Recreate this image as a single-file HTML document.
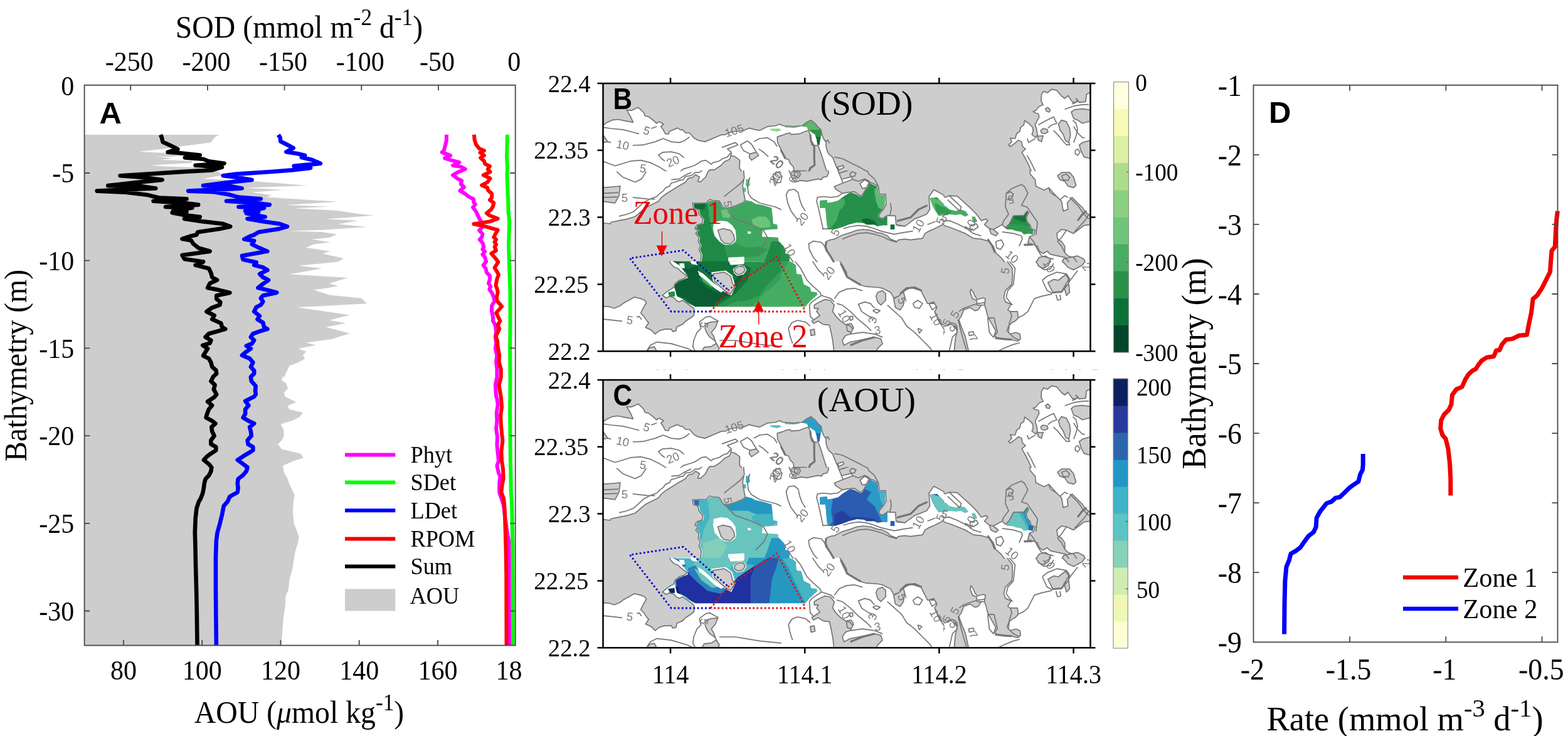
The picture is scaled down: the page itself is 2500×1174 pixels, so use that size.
<!DOCTYPE html>
<html lang="en"><head><meta charset="utf-8"><title>Figure</title>
<style>
html,body{margin:0;padding:0;background:#fff;}
body{width:2500px;height:1174px;overflow:hidden;}
svg{display:block;}
.t{font-family:"Liberation Serif","DejaVu Serif",serif;fill:#000;}
.b{font-family:"Liberation Sans","DejaVu Sans",sans-serif;font-weight:bold;fill:#000;}
.c{font-family:"Liberation Sans","DejaVu Sans",sans-serif;fill:#7a7a7a;}
.z{font-family:"Liberation Serif","DejaVu Serif",serif;fill:#e8000a;}
</style></head><body>
<svg width="2500" height="1174" viewBox="0 0 2500 1174">
<rect width="2500" height="1174" fill="#fff"/>
<path d="M134.6 214.8 349.6 215 341.6 219.4 336.3 227.3 288.7 233.5 264 237 235.8 240.2 221.7 241.8 239.3 242.9 267.6 244.1 306.4 246.2 271.1 250.3 246.4 249 274.6 252.4 257 255 306.4 256.8 306.4 260 239.3 263.5 262.3 265.6 309.9 267 341.6 272.3 348.8 274.1 354 279.4 324.1 285.2 373.4 287.6 403.4 289.1 490.7 296.1 391.1 299.6 451 302.8 401.7 306.7 433.4 311.5 424.6 314.6 539.2 321.7 456.3 327 524.2 329.6 468.7 332.3 535.7 335.8 571 341.1 595.7 343.7 519.8 349.5 571 351.7 539.2 357.5 585.1 361.9 514.5 366.7 461.6 368.4 514.5 370.2 537.5 373.7 525.1 379 496.9 381.6 526.9 386.6 500.4 389.6 488.1 394.9 526.9 401 526.9 400.9 514.5 404.4 548 412.3 539.2 417.6 475.7 423.8 513.6 428.2 461.6 437.4 555.1 442.9 525.1 452 539.2 456.4 500.4 462.6 525.1 470.5 576.3 475.8 585.1 484.3 474 490.3 557.7 502.6 525.1 510.7 551.6 515.5 519.8 521.7 557.7 531.9 528.6 541.1 488.1 546.4 503.9 550.8 475.7 556.1 488.1 560.8 482.8 566.7 486.3 571.9 475.7 578.1 461.6 583.4 456.3 594 452.8 602.8 451 600 449.3 607.1 456.3 611.5 459 619.4 452.8 626.5 454.6 632.6 472.2 641.4 458.1 647.6 461.6 652.9 482.8 658.2 477.5 665.3 466.9 670.5 447.5 676.7 451.9 684.6 452.8 695.2 449.3 702.3 443.1 708.5 449.3 716.4 479.3 723.4 483.7 730.5 466.9 735.8 451 742.8 452.8 753.4 458.1 762.2 461.6 772.8 466.9 783.4 469.6 790.5 467.8 800 466.9 817.6 468.7 835.3 473.1 845.9 476.6 856.4 474.8 867 471.3 877.6 468.7 891.7 466 909.3 461.6 923.4 459.9 941.1 455.5 949.9 454.6 967.5 451.9 985.2 450.2 1007 448.4 1029.5 134.6 1029.5Z" fill="#cdcdcd"/>
<path d="M808.8 214.7 808.4 238.4 808 251.2 809 266.6 808.4 279.4 809.3 302.4 810.3 321.6 810.6 340.8 811 340 812.2 355.4 811.6 372 811 391.2 811.6 410.4 812.2 429.6 812.9 448.8 813.5 468 813.5 480 813.5 518.4 813.1 556.8 813.5 595.2 813.5 620 813.1 658.4 813.5 696.8 813.9 735.2 814.4 760 814.8 785.6 816.1 804.8 816.7 836.8 817.4 875.2 817.4 900 817.7 1029.5" fill="none" stroke="#00ff00" stroke-width="6" stroke-linejoin="round" stroke-linecap="butt"/>
<path d="M712 214.7 711.8 224.3 709.2 234.6 707.9 239.7 704.7 242.9 713 246.1 718.2 248 709.2 252.5 719.4 255.7 732.2 258.9 722 264 734.8 265.9 741.8 269.8 731 274.2 722 279.4 729.7 285.1 736.1 288.3 734.8 293.4 739.9 298.6 733.5 304.3 741.2 308.8 747.6 313.9 755.3 317.8 755.3 322.9 757.8 326.1 754 330.6 757.8 335.7 760.4 340 763 346.4 766.8 352.8 770.6 360.5 764.2 367.5 769.4 373.3 768.1 378.4 764.9 382.2 769.4 387.4 771.3 393.8 769.4 397.6 773.2 401.4 769.4 405.9 773.2 410.4 775.1 417.4 770.6 423.2 774.5 428.3 775.8 434.7 780.9 439.8 780.9 446.2 779 452 782.2 457.1 780.2 461.6 784.7 468 787.3 474.4 788.6 480 784.1 487.7 784.1 496.6 786 505.6 786 512 789.8 518.4 791.1 528.6 789.8 537.6 791.1 546.6 789.8 556.8 792.4 567 791.1 577.3 792.4 588.8 792.4 601.6 789.8 614.4 791.1 632.8 792.4 635.4 793.7 645.6 791.8 658.4 792.4 671.2 791.1 684 793 696.8 792.4 709.6 793.7 722.4 795 735.2 792.4 742.9 795 754.4 797.5 760 796.2 770.2 796.2 785.6 798.8 793.3 802.6 804.8 805.2 824 807.8 843.2 811 862.4 811.6 881.6 811.6 910 811.6 912.8 812 1029.5" fill="none" stroke="#ff00ff" stroke-width="6" stroke-linejoin="round" stroke-linecap="butt"/>
<path d="M755.9 214.7 756.6 223 759.1 230.7 764.2 237.1 771.9 240.3 765.5 243.5 771.9 248 766.2 251.8 771.9 257 773.2 261.4 780.9 265.3 777.7 269.8 781.5 274.2 770.6 279.4 781.5 284.5 777 290.9 768.1 295.4 777 299.2 778.3 303.7 784.1 308.8 784.1 315.2 780.9 319 787.3 323.5 786 329.3 782.8 334.4 775.8 340 780.9 343.8 793.7 348.7 780.9 353.4 755.3 357.3 773.2 361.1 793.7 366.9 789.8 373.3 787.3 378.4 791.1 382.2 788.6 386.1 791.1 389.9 788.6 393.8 791.1 399.5 783.4 404.6 789.8 411.7 794.3 418.1 788.6 427 792.4 433.4 795 438.3 792.4 445 790.5 455.2 792.4 460.3 793.7 466.1 791.8 474.4 792.4 480 800.1 488.7 791.1 499.2 797.5 512 793.7 518.4 796.2 524.8 790.5 536.3 793 544 793.7 554.2 796.2 567 795.6 577.3 798.8 588.8 798.8 601.6 795.6 614.4 798.2 630.2 798.8 632.8 800.1 649.4 798.2 662.2 798.8 677.6 800.1 691.7 801.4 703.2 799.4 719.8 800.1 735.2 802 748 802.6 760.8 802.6 763.8 800.7 772.8 799.4 785.6 803.3 795.8 804.6 811.2 805.2 830.4 805.8 849.6 806.5 875.2 807.1 910 807.2 912.8 807.5 1029.5" fill="none" stroke="#ff0000" stroke-width="6" stroke-linejoin="round" stroke-linecap="butt"/>
<path d="M443.9 215 446.6 219.4 447.4 225.6 456.3 230 467.7 236.2 456.3 242.3 473.9 245 486.2 248 480.9 251.1 496.8 254.7 510.9 260.8 468.6 264.9 495.1 267.9 465.1 271.4 435.1 273.7 376.9 277.6 355.7 280.2 378.7 282.9 401.6 286.9 373.4 289.9 324 296.1 364.5 296.6 385.7 300.5 341.6 302.6 300.2 304.6 341.6 306.3 364.5 310.2 380.4 314.6 415.7 317.3 361 320.8 405.1 323.4 429.8 326.6 380.4 330 421 331.9 391 336.7 412.2 337.9 392.8 340.2 405.1 342.8 422.7 346 394.5 349 421 353.4 445.7 357 458 361.4 445.7 364.9 412.2 370.2 405.1 374.6 398.1 377.2 389.2 381.6 405.1 384.3 401.6 389.6 412.2 394.9 426.3 401 424.6 400.9 385.8 407.9 387.6 414.1 408.7 418.5 405.2 422.9 419.3 426.5 426.4 430.9 414 437 419.3 442.3 428.1 446.7 419.3 452.9 411.4 459.1 426.4 462.6 441.3 466.7 419.3 471.4 415.8 475.8 419.3 481.1 415.8 486.4 408.7 489.9 405.2 497 414 504 410.5 509.3 419.3 514.6 421.1 521.7 426.4 524.9 415.8 527.9 403.4 532.3 399.9 537.6 405.2 542.8 401.7 548.1 392.8 551.7 399.9 556.1 391.1 562.2 385.8 566.7 398.1 571.9 403.4 578.1 399.9 585.2 405.2 591.3 405.2 595.8 399.9 601 400.8 607.9 407.8 615.9 407 622.9 407.8 629.1 405.2 632.6 391.1 639.7 396.4 646.7 391.1 652.9 391.1 660 387.6 666.1 396.4 671.4 405.2 675.5 398.1 681.1 399.9 688.2 400.8 695.2 394.6 702.3 395.5 708.5 403.4 712.9 403.4 718.2 396.4 722.6 387.6 727.9 378.7 733.7 387.6 740.2 394.6 745.5 392.8 751.7 387.6 757.8 379.6 764 378.7 771.1 379.6 778.1 378.7 785.2 366.4 792.2 362.9 800 356.7 807.1 354 821.2 350.5 835.3 346.6 849.4 344.9 861.7 344 888.2 344 941.1 344.3 976.4 344.9 1029.3" fill="none" stroke="#0000ff" stroke-width="6.6" stroke-linejoin="round" stroke-linecap="butt"/>
<path d="M256.1 215 257.9 219.4 259.6 226.5 271.1 231.7 283.4 237.9 267.6 242.7 283.4 243.7 318.7 247.6 294.9 251.5 324 253.8 332.8 257.3 357.5 260.8 311.6 263.8 354 266.7 338.1 271.4 288.7 274.1 235.8 277.6 191.7 280.2 228.8 282.9 258.7 286.9 228.8 289.9 172.3 296.1 221.7 296.6 248.2 300.5 200.5 302.3 154.7 304.6 200.5 306.7 235.8 311.1 253.4 315.5 297.5 317.3 244.6 320.8 288.7 323.4 316.1 326.6 264 330 306.4 331.4 276.4 335.8 297.5 337.6 274.6 339.3 292.2 342.8 318.7 346 294 349 324 353.4 355.7 357 367.2 361.4 350.4 364.9 315.2 370.2 313.4 374.6 304.6 376.4 290.5 381.1 304.6 383.4 308.1 388.7 316.9 395.8 332.8 400.2 334.6 400.9 290.6 407.1 294.1 413.2 324.1 417.6 311.7 422.9 332.9 428.2 336.4 435.3 338.2 442.3 346.1 446.7 334.6 452 331.1 459.1 348.8 462.6 366.4 467 345.2 471.4 345.2 476.7 351.4 482 350.5 486.4 338.2 490.8 329.4 497 341.7 503.2 338.2 509.3 352.3 515.5 354 521.7 359.3 524.9 348.8 527.9 332.9 532.3 327.6 537.6 336.4 542.8 334.6 547.3 323.2 550.8 331.1 556.1 327.6 561.4 324.1 567.5 332.9 571.9 336.4 578.1 338.2 585.2 344.3 590.5 345.2 595.8 339.9 601 336.4 607.9 342.6 614.1 340.8 621.2 345.2 629.1 341.7 633.5 331.1 640.6 338.2 646.7 332.9 652.9 330.2 660 328.5 666.1 338.2 671.4 343.5 675.5 337.3 681.1 338.2 688.2 341.7 695.2 336.4 702.3 336.4 708.5 344.3 712.9 344.3 718.2 336.4 723.4 329.4 728.7 324.9 733.7 332.9 740.2 337.3 745.5 336.4 751.7 332.9 758.7 327.6 764 325.8 771.1 324.9 778.1 323.2 786.9 319.7 795.8 317 800 313.5 810.6 311.7 826.5 310.8 849.4 311.4 870.5 312.1 905.8 313.1 941.1 313.8 976.4 314.5 1029.3" fill="none" stroke="#000" stroke-width="6.6" stroke-linejoin="round" stroke-linecap="butt"/>
<g stroke="#484848" stroke-width="1.8" fill="none">
<rect x="134.6" y="135.8" width="687.1" height="893.7"/>
<path d="M134.6 276.0h8.5M821.7 276.0h-8.5"/>
<path d="M134.6 415.7h8.5M821.7 415.7h-8.5"/>
<path d="M134.6 555.4h8.5M821.7 555.4h-8.5"/>
<path d="M134.6 695.1h8.5M821.7 695.1h-8.5"/>
<path d="M134.6 834.8h8.5M821.7 834.8h-8.5"/>
<path d="M134.6 974.5h8.5M821.7 974.5h-8.5"/>
<path d="M197.0 1029.5v-8.5"/>
<path d="M322.2 1029.5v-8.5"/>
<path d="M447.5 1029.5v-8.5"/>
<path d="M572.7 1029.5v-8.5"/>
<path d="M698.0 1029.5v-8.5"/>
<path d="M208.2 135.8v8.5"/>
<path d="M330.9 135.8v8.5"/>
<path d="M453.6 135.8v8.5"/>
<path d="M576.3 135.8v8.5"/>
<path d="M699.0 135.8v8.5"/>
</g>
<text class="t" transform="translate(118.3 151.6) scale(0.955 1)" font-size="44" text-anchor="end">0</text>
<text class="t" transform="translate(118.3 291.3) scale(0.955 1)" font-size="44" text-anchor="end">-5</text>
<text class="t" transform="translate(118.3 431.0) scale(0.955 1)" font-size="44" text-anchor="end">-10</text>
<text class="t" transform="translate(118.3 570.6) scale(0.955 1)" font-size="44" text-anchor="end">-15</text>
<text class="t" transform="translate(118.3 710.4) scale(0.955 1)" font-size="44" text-anchor="end">-20</text>
<text class="t" transform="translate(118.3 850.0) scale(0.955 1)" font-size="44" text-anchor="end">-25</text>
<text class="t" transform="translate(118.3 989.8) scale(0.955 1)" font-size="44" text-anchor="end">-30</text>
<text class="t" transform="translate(197.0 1084.0) scale(0.955 1)" font-size="44" text-anchor="middle">80</text>
<text class="t" transform="translate(322.2 1084.0) scale(0.955 1)" font-size="44" text-anchor="middle">100</text>
<text class="t" transform="translate(447.5 1084.0) scale(0.955 1)" font-size="44" text-anchor="middle">120</text>
<text class="t" transform="translate(572.7 1084.0) scale(0.955 1)" font-size="44" text-anchor="middle">140</text>
<text class="t" transform="translate(698.0 1084.0) scale(0.955 1)" font-size="44" text-anchor="middle">160</text>
<text class="t" transform="translate(790.5 1084.0) scale(0.955 1)" font-size="44">18</text>
<text class="t" transform="translate(206.2 113.0) scale(0.955 1)" font-size="44" text-anchor="middle">-250</text>
<text class="t" transform="translate(328.9 113.0) scale(0.955 1)" font-size="44" text-anchor="middle">-200</text>
<text class="t" transform="translate(451.6 113.0) scale(0.955 1)" font-size="44" text-anchor="middle">-150</text>
<text class="t" transform="translate(574.3 113.0) scale(0.955 1)" font-size="44" text-anchor="middle">-100</text>
<text class="t" transform="translate(697.0 113.0) scale(0.955 1)" font-size="44" text-anchor="middle">-50</text>
<text class="t" transform="translate(819.7 113.0) scale(0.955 1)" font-size="44" text-anchor="middle">0</text>
<text class="t" transform="translate(477.0 60.3) scale(0.955 1)" font-size="50" text-anchor="middle">SOD (mmol m<tspan dy="-20" font-size="37">-2</tspan><tspan dy="20"> d</tspan><tspan dy="-20" font-size="37">-1</tspan><tspan dy="20">)</tspan></text>
<text class="t" transform="translate(477.0 1153.0) scale(0.955 1)" font-size="50" text-anchor="middle">AOU (<tspan font-style="italic">μ</tspan>mol kg<tspan dy="-20" font-size="37">-1</tspan><tspan dy="20">)</tspan></text>
<text class="t" transform="translate(42.3 583.0) rotate(-90) scale(0.955 1)" font-size="50" text-anchor="middle">Bathymetry (m)</text>
<text class="b" transform="translate(158.5 197.0)" font-size="49">A</text>
<path d="M550 725.5H630.3" stroke="#ff00ff" stroke-width="6"/>
<text class="t" transform="translate(654.5 737.8) scale(0.955 1)" font-size="38">Phyt</text>
<path d="M550 769.6H630.3" stroke="#00ff00" stroke-width="6"/>
<text class="t" transform="translate(654.5 781.9) scale(0.955 1)" font-size="38">SDet</text>
<path d="M550 814.3H630.3" stroke="#0000ff" stroke-width="6"/>
<text class="t" transform="translate(654.5 826.6) scale(0.955 1)" font-size="38">LDet</text>
<path d="M550 859.5H630.3" stroke="#f00000" stroke-width="6"/>
<text class="t" transform="translate(654.5 871.8) scale(0.955 1)" font-size="38">RPOM</text>
<path d="M550 903.5H630.3" stroke="#000" stroke-width="6"/>
<text class="t" transform="translate(654.5 915.8) scale(0.955 1)" font-size="38">Sum</text>
<rect x="550" y="939.5" width="80.3" height="35" fill="#cdcdcd"/>
<text class="t" transform="translate(653.5 963.3) scale(0.955 1)" font-size="38">AOU</text>
<defs><clipPath id="ct00"><rect x="960.8" y="132.8" width="284.9" height="140.4"/></clipPath>
<clipPath id="rt00"><path d="M1226.4 205.6 1243.0 205.0 1244.3 208.2 1239.2 210.1 1230.2 208.2ZM1250.7 201.2 1266.0 202.4 1275.0 201.8 1275.0 204.0 1252.0 203.3Z"/></clipPath>
<clipPath id="ct01"><rect x="960.8" y="271.8" width="284.9" height="146.4"/></clipPath>
<clipPath id="rt01"><path d="M1106.0 325.0 1126.5 324.4 1131.6 319.9 1136.8 320.9 1147.0 321.6 1152.1 331.7 1159.8 333.0 1172.6 329.1 1185.4 324.0 1189.2 319.3 1198.2 321.2 1204.6 325.0 1217.4 327.6 1230.2 331.4 1231.5 341.7 1232.8 357.0 1239.2 358.3 1239.8 365.4 1230.2 365.7 1216.1 367.5 1214.8 377.5 1240.4 378.8 1241.7 385.2 1249.4 391.6 1253.2 398.0 1253.2 404.4 1259.6 405.7 1259.6 420.0 1118.8 420.0 1120.1 405.7 1116.3 398.0 1118.8 391.6 1115.0 385.2 1116.3 378.8 1111.2 372.4 1115.0 367.3 1109.9 364.7 1112.4 359.6 1121.4 357.0 1122.7 349.4 1116.3 341.7 1115.0 334.0 1107.3 331.4ZM1189.2 286.6 1194.4 285.4 1195.6 295.6 1191.8 298.8 1189.2 295.6ZM1184.8 300.1 1189.2 299.4 1189.2 305.8 1185.4 306.5Z"/></clipPath>
<clipPath id="ct02"><rect x="960.8" y="416.8" width="284.9" height="144.4"/></clipPath>
<clipPath id="rt02"><path d="M1070.2 415.0 1083.0 422.7 1088.1 429.1 1095.8 439.3 1097.1 443.2 1090.7 445.7 1083.0 448.3 1076.6 453.4 1075.3 458.5 1077.9 466.2 1079.2 472.6 1088.1 476.4 1095.8 482.8 1108.6 489.2 1275.0 489.2 1275.0 415.0ZM1065.1 466.2 1075.3 464.9 1076.0 472.6 1067.6 473.9Z"/></clipPath>
<clipPath id="ct10"><rect x="1244.3" y="132.8" width="261.4" height="140.4"/></clipPath>
<clipPath id="rt10"><path d="M1227.2 205.6 1244.4 205.0 1245.7 208.2 1240.6 210.1 1231.6 208.2ZM1250.8 201.2 1266.2 202.4 1276.4 201.8 1266.2 204.0 1252.1 203.3ZM1277.7 201.2 1286.7 195.4 1293.1 192.2 1298.2 196.7 1304.6 203.1 1309.1 206.9 1309.7 214.6 1307.8 222.3 1306.5 231.2 1303.3 231.2 1302.0 222.3 1299.5 214.6 1291.8 209.5 1288.0 206.9 1286.7 203.1Z"/></clipPath>
<clipPath id="ct11"><rect x="1244.3" y="271.8" width="261.4" height="146.4"/></clipPath>
<clipPath id="rt11"><path d="M1240.6 385.2 1245.0 389.0 1248.3 391.6 1252.1 398.0 1252.1 404.4 1258.5 405.7 1258.5 420.0 1240.6 420.0ZM1307.2 319.9 1318.7 319.3 1318.7 323.8 1327.6 322.5 1336.6 319.9 1343.0 314.8 1350.7 309.7 1355.8 307.1 1362.2 308.4 1371.2 313.5 1375.0 312.2 1378.8 305.8 1385.2 295.6 1387.2 292.0 1391.6 294.3 1399.3 298.2 1400.6 311.0 1410.8 311.0 1410.8 326.3 1407.0 334.0 1400.6 341.7 1400.6 346.8 1407.0 349.4 1414.7 344.2 1414.7 359.6 1407.0 359.6 1399.3 360.9 1394.2 358.3 1381.4 358.3 1377.6 355.8 1366.0 355.1 1353.2 358.3 1343.0 362.2 1330.2 366.0 1320.0 366.0 1318.7 359.6 1317.4 346.8 1316.1 331.4 1307.2 331.4ZM1419.8 358.3 1426.2 358.3 1426.2 366.0 1419.8 366.0ZM1482.5 316.1 1494.0 314.8 1500.4 321.2 1506.8 327.6 1515.8 330.2 1522.2 334.0 1535.0 334.0 1535.0 341.7 1522.2 339.1 1509.4 343.0 1496.6 344.2 1491.5 336.6 1486.4 327.6Z"/></clipPath>
<clipPath id="ct12"><rect x="1244.3" y="416.8" width="261.4" height="144.4"/></clipPath>
<clipPath id="rt12"><path d="M1215.0 415.0 1258.5 415.0 1268.8 422.7 1270.0 436.8 1277.7 438.0 1281.6 453.4 1291.8 458.5 1293.1 464.9 1302.0 466.2 1303.3 470.0 1290.5 481.6 1284.1 489.2 1215.0 489.2Z"/></clipPath>
<clipPath id="ct20"><rect x="1504.3" y="132.8" width="234.9" height="140.4"/></clipPath>
<clipPath id="ct21"><rect x="1504.3" y="271.8" width="234.9" height="146.4"/></clipPath>
<clipPath id="rt21"><path d="M1482.7 316.1 1489.1 315.4 1496.8 319.9 1500.6 327.6 1508.3 328.9 1513.4 334.0 1523.6 336.6 1531.3 334.0 1539.0 336.6 1544.1 343.0 1539.0 345.5 1531.3 341.7 1523.6 343.0 1513.4 341.7 1504.4 344.2 1494.2 344.2 1490.4 336.6 1486.5 327.6ZM1549.2 345.5 1554.4 345.5 1558.2 353.2 1553.1 355.8 1550.5 350.6ZM1615.8 344.2 1632.4 343.6 1637.6 336.6 1638.8 339.1 1635.0 346.8 1636.3 353.2 1641.4 359.6 1642.7 364.7 1647.8 367.3 1646.5 373.7 1641.4 372.4 1632.4 373.7 1628.6 369.8 1620.9 368.6 1613.2 366.0 1605.6 366.0 1603.0 363.4 1609.4 357.0Z"/></clipPath>
<clipPath id="ct22"><rect x="1504.3" y="416.8" width="234.9" height="144.4"/></clipPath>
<g id="base"><rect x="961.5" y="133.5" width="777" height="427" fill="#cdcdcd"/><g clip-path="url(#ct00)"><path d="M961.7 199.9 967.8 195.4 976.8 191.3 985.7 190.5 997.2 192.8 1009.4 195.1 1004.9 185.2 999.2 175.6 1006.2 176.2 1012.6 173.6 1017.7 171.3 1022.8 176.2 1026.7 180.0 1028.0 184.5 1034.4 186.4 1042.0 192.2 1046.5 196.7 1051.0 194.1 1058.0 198.0 1053.6 201.8 1057.4 206.9 1060.6 213.3 1065.7 214.0 1067.6 209.5 1080.4 204.1 1084.3 206.9 1088.1 206.9 1093.2 212.0 1099.6 212.0 1106.0 219.7 1112.4 223.6 1124.0 226.1 1149.6 215.2 1157.2 214.6 1164.9 210.8 1172.6 209.5 1185.4 208.2 1194.4 204.4 1204.6 206.9 1211.0 208.2 1223.8 201.8 1236.6 200.5 1243.0 198.0 1249.4 200.5 1262.2 201.8 1275.0 199.2 1275.0 214.6 1262.2 212.0 1249.4 214.6 1239.2 218.4 1239.8 227.4 1244.3 236.4 1249.4 244.0 1253.2 253.0 1259.6 263.2 1262.2 275.0 1184.1 275.0 1179.0 268.4 1179.5 255.6 1172.0 249.8 1165.4 248.0 1163.0 254.3 1154.9 258.1 1148.8 264.5 1138.9 270.9 1132.0 270.9 1128.3 275.0 955.0 275.0 955.0 199.9Z" fill="#fff"/></g>
<g clip-path="url(#ct01)"><path d="M955.0 270.0 1132.9 270.0 1128.3 274.7 1125.0 282.5 1116.8 290.2 1112.3 289.5 1115.5 282.5 1109.0 278.6 1104.0 283.1 1097.6 284.3 1092.5 290.7 1081.6 297.1 1068.8 304.9 1061.2 309.7 1054.8 314.8 1049.7 321.2 1039.5 326.3 1029.2 331.4 1012.6 345.5 999.8 349.4 987.0 351.9 974.2 354.5 972.9 357.0 961.7 355.5 955.0 355.5ZM1185.4 270.0 1186.7 282.8 1184.1 295.6 1185.4 305.8 1188.0 318.6 1185.4 323.1 1172.6 328.2 1159.8 332.1 1152.8 330.8 1147.0 320.6 1136.8 319.9 1131.6 318.0 1125.9 323.5 1104.1 324.0 1105.4 331.4 1113.1 334.6 1114.4 341.7 1120.8 349.4 1119.5 356.4 1110.5 359.6 1108.0 364.7 1113.1 367.9 1109.2 372.4 1114.4 378.8 1113.1 385.2 1116.9 391.6 1114.4 398.0 1118.2 405.7 1116.9 420.0 1275.0 420.0 1275.0 270.0Z" fill="#fff"/></g>
<g clip-path="url(#ct02)"><path d="M961.7 488.6 971.6 489.2 979.3 491.8 988.3 488.0 993.4 484.1 1002.4 479.0 1011.3 473.9 1021.6 476.4 1028.0 479.0 1030.5 482.8 1026.7 489.2 1022.8 496.9 1021.6 499.5 1026.7 504.6 1031.8 512.3 1034.4 514.8 1029.2 522.5 1038.2 526.4 1044.6 532.8 1051.0 527.6 1060.0 525.1 1070.2 525.1 1072.8 528.9 1077.9 527.6 1079.2 521.2 1088.1 517.4 1093.2 512.3 1100.9 507.2 1106.0 503.3 1107.3 496.9 1106.0 491.8 1095.8 484.1 1088.1 479.0 1083.0 481.6 1077.9 479.0 1075.3 475.2 1067.6 472.6 1062.5 475.2 1056.1 471.3 1063.8 464.9 1074.0 458.5 1076.6 452.1 1083.0 447.0 1090.7 444.4 1095.8 440.6 1090.7 436.8 1085.6 432.9 1080.4 427.8 1075.3 426.5 1070.2 421.4 1066.4 415.0 1275.0 415.0 1275.0 565.0 955.0 565.0 955.0 488.6Z" fill="#fff"/></g>
<g clip-path="url(#ct10)"><path d="M1215.0 201.2 1221.4 200.5 1227.8 201.8 1238.0 199.2 1243.2 198.0 1248.3 200.5 1266.2 201.8 1279.0 200.5 1286.7 194.8 1293.1 191.6 1299.5 196.7 1304.6 203.1 1309.1 206.9 1310.4 214.6 1313.6 222.3 1317.4 226.1 1316.8 232.5 1318.7 240.2 1321.2 245.3 1327.6 251.1 1330.8 259.4 1334.0 267.1 1337.9 275.0 1318.7 275.0 1314.8 263.2 1309.7 246.6 1304.6 232.5 1294.4 231.2 1293.1 224.8 1291.8 214.6 1289.2 208.2 1284.1 209.5 1275.2 213.3 1261.1 214.6 1259.8 212.0 1253.4 213.3 1240.6 218.4 1239.3 227.4 1243.2 236.4 1248.3 245.3 1252.1 253.0 1257.2 254.3 1259.8 260.7 1264.9 265.8 1266.2 275.0 1215.0 275.0ZM1335.3 266.4 1344.3 263.9 1345.6 267.1 1337.9 270.9Z" fill="#fff"/></g>
<g clip-path="url(#ct11)"><path d="M1215.0 270.0 1257.2 270.0 1262.4 282.8 1267.5 290.5 1276.4 287.9 1286.7 289.2 1304.6 285.4 1309.7 286.6 1312.3 282.8 1318.7 281.5 1321.2 275.1 1320.0 270.0 1335.3 270.0 1337.9 276.4 1341.7 286.0 1344.3 291.8 1330.2 297.5 1332.8 302.0 1343.0 308.4 1349.4 307.1 1362.2 305.8 1371.2 312.2 1375.0 311.0 1378.8 304.6 1384.0 294.3 1386.5 290.5 1392.9 293.0 1400.6 297.5 1401.9 309.7 1412.1 309.7 1412.8 326.3 1408.3 334.0 1401.9 341.7 1401.9 346.8 1407.0 348.7 1416.0 343.0 1417.2 344.2 1427.5 344.2 1428.8 358.3 1442.8 360.9 1458.2 349.4 1477.4 341.7 1482.5 334.0 1481.2 313.5 1488.9 302.6 1535.0 327.6 1535.0 359.6 1522.2 357.0 1513.2 354.5 1503.0 358.3 1490.2 364.7 1481.2 368.6 1474.8 372.4 1471.0 380.1 1460.8 381.4 1451.8 382.6 1442.8 381.4 1432.6 382.6 1430.0 385.2 1419.8 381.4 1414.7 376.2 1407.0 372.4 1399.3 371.1 1387.8 367.3 1376.3 366.0 1366.0 367.3 1355.8 371.1 1343.0 375.0 1330.2 381.4 1323.8 382.6 1317.4 385.2 1316.1 392.9 1318.7 400.6 1323.8 408.2 1327.6 414.6 1330.2 420.0 1215.0 420.0ZM1341.7 286.0 1357.1 282.2 1359.6 286.0 1344.3 291.8ZM1371.2 293.0 1378.8 286.6 1386.5 291.8 1381.4 299.4 1375.0 300.7Z" fill="#fff"/></g>
<g clip-path="url(#ct12)"><path d="M1215.0 415.0 1337.9 415.0 1343.0 422.7 1349.4 434.2 1350.7 441.9 1362.2 449.6 1372.4 454.7 1381.4 457.2 1400.6 458.5 1407.0 459.8 1412.1 462.4 1419.8 466.2 1424.9 475.2 1432.6 472.6 1440.3 464.9 1451.8 458.5 1468.4 463.6 1474.8 476.4 1478.7 484.1 1490.2 484.1 1494.0 490.5 1490.2 496.9 1494.0 504.6 1500.4 516.1 1509.4 521.2 1515.8 530.2 1522.2 543.0 1524.8 565.0 1215.0 565.0ZM1524.8 517.4 1535.0 512.3 1535.0 565.0 1528.6 565.0 1527.3 543.0 1520.9 530.2Z" fill="#fff"/></g>
<g clip-path="url(#ct20)"><path d="M1660.6 150.6 1664.4 145.5 1669.6 148.0 1677.2 142.3 1684.9 144.2 1692.6 153.2 1697.7 157.0 1702.8 152.5 1706.7 158.3 1710.5 163.4 1718.2 162.1 1715.6 157.0 1720.8 163.4 1731.0 162.1 1732.3 150.6 1737.4 148.0 1743.8 148.0 1743.8 275.0 1645.2 275.0 1640.1 263.2 1635.0 253.0 1629.2 242.8 1632.4 240.2 1635.0 237.6 1630.5 233.8 1628.6 226.1 1623.5 223.6 1619.6 227.4 1610.7 233.8 1608.1 231.2 1613.2 226.1 1610.7 220.4 1618.4 221.0 1620.9 213.3 1626.0 209.5 1627.3 203.1 1632.4 199.2 1633.7 192.2 1640.1 196.7 1646.5 203.1 1647.2 209.5 1645.2 214.6 1651.6 219.7 1654.2 214.6 1652.9 206.9 1650.4 199.2 1652.9 194.1 1656.8 186.4 1655.5 181.3 1650.4 180.0 1647.2 178.1 1651.6 176.2 1656.8 169.8 1663.2 167.2 1660.0 160.8Z" fill="#fff"/></g>
<g clip-path="url(#ct21)"><path d="M1475.0 339.1 1480.1 314.8 1489.1 302.6 1507.0 314.8 1513.4 312.2 1526.2 312.9 1546.7 331.4 1556.9 341.7 1564.6 351.9 1572.3 349.4 1574.8 351.9 1569.7 358.3 1577.4 364.7 1583.8 366.0 1597.9 358.3 1603.0 363.4 1609.4 357.0 1615.8 344.2 1632.4 343.6 1637.6 336.6 1640.1 339.1 1636.3 346.8 1637.6 353.2 1642.7 359.6 1644.0 364.7 1650.4 367.3 1647.8 375.0 1641.4 377.5 1638.8 387.8 1647.8 390.3 1654.2 392.9 1656.8 400.6 1663.2 404.4 1669.6 400.6 1674.7 405.7 1686.2 408.2 1699.0 410.8 1705.4 420.0 1603.0 420.0 1596.0 410.8 1587.6 403.1 1583.8 392.9 1577.4 385.2 1564.6 381.4 1551.8 380.1 1539.0 372.4 1526.2 367.3 1513.4 362.2 1500.6 358.3 1487.8 359.6 1475.0 367.3ZM1641.4 270.0 1642.7 277.7 1650.4 286.6 1651.6 296.9 1664.4 303.3 1672.1 299.4 1674.7 307.1 1684.9 313.5 1692.6 321.2 1695.2 336.6 1702.8 334.0 1701.6 323.8 1709.2 314.8 1718.2 323.8 1725.9 331.4 1731.0 339.1 1737.4 343.0 1743.8 343.0 1743.8 270.0ZM1684.9 372.4 1692.6 366.0 1700.3 367.3 1711.8 372.4 1718.2 367.3 1728.4 359.6 1737.4 358.3 1743.8 358.3 1743.8 420.0 1718.2 420.0 1711.8 410.8 1702.8 408.2 1697.7 403.1 1697.7 392.9 1692.6 385.2 1686.2 381.4Z" fill="#fff"/></g>
<g clip-path="url(#ct22)"><path d="M1603.6 413.7 1613.9 427.8 1614.5 440.6 1613.2 453.4 1603.0 463.6 1600.4 473.9 1603.0 481.6 1612.0 485.4 1606.8 494.4 1610.7 496.9 1622.2 496.9 1623.5 507.2 1618.4 512.3 1613.2 514.8 1608.1 520.0 1605.6 527.6 1610.7 532.8 1619.6 530.2 1626.0 532.8 1627.3 540.4 1622.2 544.3 1613.2 541.7 1603.0 540.4 1590.2 539.2 1585.1 535.3 1587.6 527.6 1583.8 521.2 1577.4 509.7 1574.8 504.6 1572.3 494.4 1569.7 486.7 1564.6 486.7 1559.5 494.4 1554.4 495.6 1546.7 490.5 1536.4 494.4 1532.6 504.6 1528.8 509.7 1531.3 517.4 1535.2 527.6 1539.0 536.6 1541.6 548.1 1545.4 565.0 1743.8 565.0 1743.8 415.0ZM1548.0 461.1 1551.8 466.2 1554.4 472.6 1558.2 477.7 1567.2 475.2 1571.0 476.4 1569.7 486.7 1564.6 486.7 1558.2 486.7 1556.9 479.0 1550.5 476.4 1546.7 466.2ZM1475.0 476.4 1482.7 482.8 1490.4 486.7 1491.6 494.4 1487.8 499.5 1492.9 507.2 1498.0 514.8 1500.6 521.2 1508.3 520.0 1513.4 516.1 1521.1 520.0 1526.2 527.6 1523.6 537.9 1522.4 548.1 1521.1 565.0 1475.0 565.0Z" fill="#fff"/></g></g>
<g id="lines"><g clip-path="url(#ct00)"><path d="M960.1 213.3 969.1 226.1 960.1 227.4ZM1195.6 245.3 1205.9 242.8 1209.7 247.9 1198.2 255.6 1194.4 250.4Z" fill="#cdcdcd"/></g>
<g clip-path="url(#ct01)"><path d="M960.1 299.4 983.2 297.5 988.9 296.9 987.0 312.2 980.6 323.8 960.1 321.2ZM1144.4 367.3 1152.1 364.7 1164.9 367.3 1170.0 375.0 1171.3 382.6 1164.9 389.0 1154.7 387.8 1149.6 382.6 1147.0 375.0Z" fill="#cdcdcd"/></g>
<g clip-path="url(#ct02)"><path d="M1126.5 516.1 1134.2 513.6 1144.4 512.9 1140.6 522.5 1134.2 530.2 1138.0 536.6 1141.9 548.1 1134.2 552.6 1122.7 553.9 1118.8 560.5 1144.4 560.5 1147.0 555.8 1139.3 543.0 1131.6 537.9 1126.5 530.2 1124.0 523.8ZM1136.8 436.8 1154.7 434.2 1164.9 440.6 1167.5 450.8 1171.3 458.5 1164.9 468.8 1157.2 464.9 1147.0 456.0 1139.3 448.3ZM1171.3 429.1 1177.7 424.6 1185.4 425.2 1188.0 430.4 1184.1 436.1 1176.4 438.0 1171.3 434.2ZM1031.8 560.5 1035.6 554.5 1043.3 553.2 1047.2 560.5Z" fill="#cdcdcd"/></g>
<g clip-path="url(#ct12)"><path d="M1298.2 486.7 1304.6 482.8 1314.8 477.7 1323.8 479.0 1330.2 486.7 1327.6 496.9 1332.8 504.6 1340.4 512.3 1348.1 517.4 1355.8 520.0 1359.6 525.1 1355.8 532.8 1348.1 535.3 1343.0 543.0 1345.6 550.7 1355.8 545.6 1368.6 543.0 1381.4 540.4 1394.2 537.9 1404.4 540.4 1407.0 548.1 1399.3 555.8 1394.2 565.0 1330.2 565.0 1327.6 543.0 1325.1 530.2 1322.5 518.7 1312.3 517.4 1304.6 512.3 1296.9 516.1 1294.4 512.3 1307.2 503.3 1302.0 496.9 1304.6 491.8 1298.2 491.8ZM1291.8 526.4 1298.2 525.1 1299.5 534.0 1293.1 535.3ZM1399.3 466.2 1407.0 463.6 1412.1 468.8 1412.1 479.0 1404.4 486.7 1399.3 481.6 1396.8 472.6ZM1432.6 472.6 1440.3 464.9 1442.8 473.9 1440.3 486.7 1435.2 494.4 1427.5 490.5 1424.9 476.4ZM1349.4 517.4 1357.1 516.1 1360.9 522.5 1357.1 530.2 1350.7 527.6Z" fill="#cdcdcd"/></g>
<g clip-path="url(#ct20)"><path d="M1654.2 217.2 1663.2 216.5 1660.6 226.1 1655.5 223.6ZM1687.5 198.0 1692.6 191.6 1700.3 194.1 1705.4 204.4 1706.7 214.6 1704.1 227.4 1699.0 224.8 1695.2 214.6 1690.0 206.9ZM1708.0 178.8 1713.1 174.9 1725.9 173.6 1743.8 176.2 1743.8 191.6 1725.9 196.7 1718.2 191.6 1711.8 189.0ZM1720.8 231.2 1725.9 227.4 1743.8 222.3 1743.8 254.3 1728.4 250.4 1723.3 240.2ZM1667.0 173.6 1670.8 171.3 1674.7 175.6 1672.8 178.8 1668.3 177.5ZM1659.3 208.2 1663.2 205.0 1669.6 206.3 1670.8 210.8 1665.7 213.3 1660.6 212.0Z" fill="#cdcdcd"/></g>
<g clip-path="url(#ct21)"><path d="M1650.4 421.0 1656.8 410.8 1667.0 408.2 1674.7 413.4 1674.7 421.0ZM1692.6 421.0 1695.2 413.4 1705.4 410.8 1718.2 408.2 1728.4 413.4 1731.0 421.0ZM1686.2 280.2 1692.6 275.1 1705.4 275.1 1711.8 282.8 1715.6 295.6 1711.8 299.4 1702.8 296.9 1697.7 289.2 1690.0 286.6ZM1577.4 364.7 1583.8 366.0 1591.5 372.4 1587.6 376.2 1580.0 372.4Z" fill="#cdcdcd"/></g>
<g clip-path="url(#ct22)"><path d="M1490.4 527.6 1498.0 525.1 1505.7 528.9 1503.2 535.3 1495.5 537.9 1490.4 534.0ZM1670.8 450.8 1679.8 445.7 1687.5 447.0 1699.0 438.0 1704.1 445.7 1692.6 464.9 1678.5 466.2ZM1650.4 415.0 1674.7 415.0 1672.1 422.7 1664.4 427.8 1656.8 425.2ZM1692.6 415.0 1731.0 415.0 1725.9 422.7 1711.8 430.4 1702.8 426.5ZM1696.4 457.2 1704.1 453.4 1705.4 466.2 1700.3 471.3Z" fill="#cdcdcd"/></g><g clip-path="url(#ct00)" fill="none" stroke="#757575" stroke-width="1.7" stroke-linejoin="round"><path d="M961.7 199.9 967.8 195.4 976.8 191.3 985.7 190.5 997.2 192.8 1009.4 195.1 1004.9 185.2 999.2 175.6 1006.2 176.2 1012.6 173.6 1017.7 171.3 1022.8 176.2 1026.7 180.0 1028.0 184.5 1034.4 186.4 1042.0 192.2 1046.5 196.7 1051.0 194.1 1058.0 198.0 1053.6 201.8 1057.4 206.9 1060.6 213.3 1065.7 214.0 1067.6 209.5 1080.4 204.1 1084.3 206.9 1088.1 206.9 1093.2 212.0 1099.6 212.0 1106.0 219.7 1112.4 223.6 1124.0 226.1 1149.6 215.2 1157.2 214.6 1164.9 210.8 1172.6 209.5 1185.4 208.2 1194.4 204.4 1204.6 206.9 1211.0 208.2 1223.8 201.8 1236.6 200.5 1243.0 198.0 1249.4 200.5 1262.2 201.8 1275.0 199.2 1275.0 214.6 1262.2 212.0 1249.4 214.6 1239.2 218.4 1239.8 227.4 1244.3 236.4 1249.4 244.0 1253.2 253.0 1259.6 263.2 1262.2 275.0 1184.1 275.0 1179.0 268.4 1179.5 255.6 1172.0 249.8 1165.4 248.0 1163.0 254.3 1154.9 258.1 1148.8 264.5 1138.9 270.9 1132.0 270.9 1128.3 275.0 955.0 275.0 955.0 199.9ZM960.1 213.3 969.1 226.1 960.1 227.4ZM1195.6 245.3 1205.9 242.8 1209.7 247.9 1198.2 255.6 1194.4 250.4ZM1164.9 244.0 1159.8 250.4 1152.1 253.0 1147.0 256.8 1136.8 259.4 1134.2 262.0 1125.2 255.6 1118.8 256.8 1108.6 263.2 1102.2 265.8 1089.4 269.6 1083.0 275.0M961.7 203.1 974.2 205.0 993.4 206.9 1008.8 210.8 1019.0 213.3M1038.2 205.0 1047.2 201.8M969.1 226.1 974.2 227.4M1008.8 231.9 1025.4 231.2 1044.6 226.1 1057.4 221.0 1070.2 226.1 1083.0 227.4 1090.7 224.8 1099.6 218.4M1060.0 256.8 1054.8 253.0 1049.7 247.2 1057.4 242.8 1070.2 242.1 1083.0 245.3 1090.7 251.7M961.7 257.5 980.6 264.5 993.4 260.7 1006.2 256.8 1021.6 255.6 1036.9 259.4 1052.3 267.1 1065.1 275.0M1209.7 237.6 1217.4 242.8 1225.1 249.8M1202.0 226.1 1211.0 221.0 1223.8 219.7 1234.0 226.1 1239.2 233.8M1150.8 235.1 1172.6 227.4 1176.4 231.2 1159.8 237.6 1166.2 242.8 1164.9 250.4M1180.3 231.2 1191.8 224.8 1198.2 230.0 1205.9 242.8M1180.3 231.2 1185.4 240.2 1195.6 245.3"/></g><text class="c" transform="translate(1029.2 214.6) rotate(18)" font-size="18.5" text-anchor="middle">5</text><text class="c" transform="translate(991.5 237.6) rotate(12)" font-size="18.5" text-anchor="middle">10</text><text class="c" transform="translate(1075.3 263.2) rotate(-22)" font-size="18.5" text-anchor="middle">20</text><text class="c" transform="translate(1235.3 263.2) rotate(40)" font-size="18.5" text-anchor="middle">20</text><text class="c" transform="translate(1172.6 214.6) rotate(-18)" font-size="18.5" text-anchor="middle">105</text><text class="c" transform="translate(1024.1 274.8) rotate(10)" font-size="18.5" text-anchor="middle">5</text>
<g clip-path="url(#ct01)" fill="none" stroke="#757575" stroke-width="1.7" stroke-linejoin="round"><path d="M955.0 270.0 1132.9 270.0 1128.3 274.7 1125.0 282.5 1116.8 290.2 1112.3 289.5 1115.5 282.5 1109.0 278.6 1104.0 283.1 1097.6 284.3 1092.5 290.7 1081.6 297.1 1068.8 304.9 1061.2 309.7 1054.8 314.8 1049.7 321.2 1039.5 326.3 1029.2 331.4 1012.6 345.5 999.8 349.4 987.0 351.9 974.2 354.5 972.9 357.0 961.7 355.5 955.0 355.5ZM1185.4 270.0 1186.7 282.8 1184.1 295.6 1185.4 305.8 1188.0 318.6 1185.4 323.1 1172.6 328.2 1159.8 332.1 1152.8 330.8 1147.0 320.6 1136.8 319.9 1131.6 318.0 1125.9 323.5 1104.1 324.0 1105.4 331.4 1113.1 334.6 1114.4 341.7 1120.8 349.4 1119.5 356.4 1110.5 359.6 1108.0 364.7 1113.1 367.9 1109.2 372.4 1114.4 378.8 1113.1 385.2 1116.9 391.6 1114.4 398.0 1118.2 405.7 1116.9 420.0 1275.0 420.0 1275.0 270.0ZM960.1 299.4 983.2 297.5 988.9 296.9 987.0 312.2 980.6 323.8 960.1 321.2ZM1144.4 367.3 1152.1 364.7 1164.9 367.3 1170.0 375.0 1171.3 382.6 1164.9 389.0 1154.7 387.8 1149.6 382.6 1147.0 375.0ZM1121.4 270.0 1115.0 275.1 1108.6 275.1 1102.2 280.2 1093.2 281.5 1089.4 286.6 1083.0 287.9 1076.6 290.5 1070.2 291.8 1067.6 296.9 1061.2 299.4 1057.4 304.6 1052.3 308.4 1047.2 313.5 1036.9 317.4 1026.7 322.5 1010.0 337.8 999.8 341.7 987.0 344.9M1008.8 314.8 1031.8 317.4 1044.6 317.6M983.2 273.8 993.4 282.8 1012.6 290.5 1022.8 285.4 1030.5 273.8M1154.7 313.5 1162.4 307.1 1172.6 299.4 1180.3 293.0 1185.4 286.6M1195.6 282.8 1191.8 295.6 1193.1 308.4 1198.2 316.1 1211.0 323.8 1236.6 330.2 1255.8 339.1 1268.6 349.4 1277.6 359.6 1282.7 372.4M1159.8 336.6 1172.6 349.4 1198.2 358.3 1217.4 367.3 1223.8 378.8 1217.4 391.6 1204.6 404.4M1232.8 277.7 1243.0 273.8 1250.7 280.2 1249.4 289.2 1240.4 291.8 1232.8 285.4 1232.8 277.7M962.7 308.4 985.7 307.1M962.7 314.8 984.4 314.2M1070.2 286.6 1083.0 285.4 1093.2 279.0 1102.2 275.1"/></g><text class="c" transform="translate(996.0 321.8) rotate(0)" font-size="18.5" text-anchor="middle">5</text><text class="c" transform="translate(1253.2 401.8) rotate(60)" font-size="18.5" text-anchor="middle">10</text><text class="c" transform="translate(1241.7 286.6) rotate(-50)" font-size="17.5" text-anchor="middle">20</text><text class="c" transform="translate(1154.7 326.3) rotate(80)" font-size="17.5" text-anchor="middle">5</text>
<g clip-path="url(#ct02)" fill="none" stroke="#757575" stroke-width="1.7" stroke-linejoin="round"><path d="M961.7 488.6 971.6 489.2 979.3 491.8 988.3 488.0 993.4 484.1 1002.4 479.0 1011.3 473.9 1021.6 476.4 1028.0 479.0 1030.5 482.8 1026.7 489.2 1022.8 496.9 1021.6 499.5 1026.7 504.6 1031.8 512.3 1034.4 514.8 1029.2 522.5 1038.2 526.4 1044.6 532.8 1051.0 527.6 1060.0 525.1 1070.2 525.1 1072.8 528.9 1077.9 527.6 1079.2 521.2 1088.1 517.4 1093.2 512.3 1100.9 507.2 1106.0 503.3 1107.3 496.9 1106.0 491.8 1095.8 484.1 1088.1 479.0 1083.0 481.6 1077.9 479.0 1075.3 475.2 1067.6 472.6 1062.5 475.2 1056.1 471.3 1063.8 464.9 1074.0 458.5 1076.6 452.1 1083.0 447.0 1090.7 444.4 1095.8 440.6 1090.7 436.8 1085.6 432.9 1080.4 427.8 1075.3 426.5 1070.2 421.4 1066.4 415.0 1275.0 415.0 1275.0 565.0 955.0 565.0 955.0 488.6ZM1126.5 516.1 1134.2 513.6 1144.4 512.9 1140.6 522.5 1134.2 530.2 1138.0 536.6 1141.9 548.1 1134.2 552.6 1122.7 553.9 1118.8 560.5 1144.4 560.5 1147.0 555.8 1139.3 543.0 1131.6 537.9 1126.5 530.2 1124.0 523.8ZM1136.8 436.8 1154.7 434.2 1164.9 440.6 1167.5 450.8 1171.3 458.5 1164.9 468.8 1157.2 464.9 1147.0 456.0 1139.3 448.3ZM1171.3 429.1 1177.7 424.6 1185.4 425.2 1188.0 430.4 1184.1 436.1 1176.4 438.0 1171.3 434.2ZM1031.8 560.5 1035.6 554.5 1043.3 553.2 1047.2 560.5ZM961.7 509.1 974.2 510.4 992.1 512.3M1015.2 505.9 1019.0 504.6 1022.8 509.7M1030.5 560.5 1036.9 550.7 1047.2 545.6 1070.2 548.1 1095.8 555.8 1106.0 560.5M1115.0 513.6 1125.2 505.9 1131.6 504.6 1140.6 509.7 1145.7 512.3M1115.0 513.6 1117.6 523.8 1111.2 530.2 1106.0 543.0 1104.8 553.2 1108.6 560.5M1259.6 525.1 1266.0 517.4 1275.0 513.6M1147.0 543.0 1172.6 543.0 1211.0 549.4 1249.4 553.2 1275.0 549.4"/></g><text class="c" transform="translate(1003.0 516.8) rotate(10)" font-size="18.5" text-anchor="middle">5</text><text class="c" transform="translate(1116.9 517.4) rotate(100)" font-size="17.5" text-anchor="middle">5</text>
<g clip-path="url(#ct10)" fill="none" stroke="#757575" stroke-width="1.7" stroke-linejoin="round"><path d="M1215.0 201.2 1221.4 200.5 1227.8 201.8 1238.0 199.2 1243.2 198.0 1248.3 200.5 1266.2 201.8 1279.0 200.5 1286.7 194.8 1293.1 191.6 1299.5 196.7 1304.6 203.1 1309.1 206.9 1310.4 214.6 1313.6 222.3 1317.4 226.1 1316.8 232.5 1318.7 240.2 1321.2 245.3 1327.6 251.1 1330.8 259.4 1334.0 267.1 1337.9 275.0 1318.7 275.0 1314.8 263.2 1309.7 246.6 1304.6 232.5 1294.4 231.2 1293.1 224.8 1291.8 214.6 1289.2 208.2 1284.1 209.5 1275.2 213.3 1261.1 214.6 1259.8 212.0 1253.4 213.3 1240.6 218.4 1239.3 227.4 1243.2 236.4 1248.3 245.3 1252.1 253.0 1257.2 254.3 1259.8 260.7 1264.9 265.8 1266.2 275.0 1215.0 275.0ZM1335.3 266.4 1344.3 263.9 1345.6 267.1 1337.9 270.9ZM1215.0 219.7 1227.8 220.4 1238.0 222.9M1330.2 250.4 1343.0 253.0 1355.8 259.4 1368.6 265.8 1385.2 275.0M1314.8 226.1 1320.0 223.6 1322.5 228.7"/><path d="M1291.8 214.6 1293.1 224.8 1298.2 233.8 1298.2 253.0 1298.8 263.2 1291.8 268.4 1289.2 275.0" stroke-width="3.2"/><path d="M1239.3 227.4 1243.2 236.4 1248.3 245.3 1252.1 253.0" stroke-width="3.2"/></g><text class="c" transform="translate(1234.2 263.9) rotate(40)" font-size="18.5" text-anchor="middle">20</text>
<g clip-path="url(#ct11)" fill="none" stroke="#757575" stroke-width="1.7" stroke-linejoin="round"><path d="M1215.0 270.0 1257.2 270.0 1262.4 282.8 1267.5 290.5 1276.4 287.9 1286.7 289.2 1304.6 285.4 1309.7 286.6 1312.3 282.8 1318.7 281.5 1321.2 275.1 1320.0 270.0 1335.3 270.0 1337.9 276.4 1341.7 286.0 1344.3 291.8 1330.2 297.5 1332.8 302.0 1343.0 308.4 1349.4 307.1 1362.2 305.8 1371.2 312.2 1375.0 311.0 1378.8 304.6 1384.0 294.3 1386.5 290.5 1392.9 293.0 1400.6 297.5 1401.9 309.7 1412.1 309.7 1412.8 326.3 1408.3 334.0 1401.9 341.7 1401.9 346.8 1407.0 348.7 1416.0 343.0 1417.2 344.2 1427.5 344.2 1428.8 358.3 1442.8 360.9 1458.2 349.4 1477.4 341.7 1482.5 334.0 1481.2 313.5 1488.9 302.6 1535.0 327.6 1535.0 359.6 1522.2 357.0 1513.2 354.5 1503.0 358.3 1490.2 364.7 1481.2 368.6 1474.8 372.4 1471.0 380.1 1460.8 381.4 1451.8 382.6 1442.8 381.4 1432.6 382.6 1430.0 385.2 1419.8 381.4 1414.7 376.2 1407.0 372.4 1399.3 371.1 1387.8 367.3 1376.3 366.0 1366.0 367.3 1355.8 371.1 1343.0 375.0 1330.2 381.4 1323.8 382.6 1317.4 385.2 1316.1 392.9 1318.7 400.6 1323.8 408.2 1327.6 414.6 1330.2 420.0 1215.0 420.0ZM1341.7 286.0 1357.1 282.2 1359.6 286.0 1344.3 291.8ZM1371.2 293.0 1378.8 286.6 1386.5 291.8 1381.4 299.4 1375.0 300.7ZM1284.1 336.6 1279.0 328.9 1275.2 318.6 1272.6 307.1 1266.2 302.0 1257.2 303.3 1253.4 311.0 1256.0 323.8 1261.1 336.6 1268.8 346.8 1272.6 350.6M1312.3 365.4 1304.6 330.2 1302.0 321.2 1303.3 314.8 1312.3 313.5 1323.8 314.8 1335.3 313.5 1343.0 308.4M1215.0 330.2 1227.8 336.6 1236.8 346.8 1241.9 359.6 1243.2 372.4M1257.2 407.0 1266.2 420.0M1311.0 365.4 1323.8 364.7M1344.3 364.7 1355.8 361.5 1368.6 359.6 1381.4 360.9 1394.2 364.7 1404.4 368.6 1414.7 371.1 1426.2 373.7 1439.0 371.1 1455.6 368.6M1478.7 358.3 1491.5 353.2M1317.4 400.6 1314.8 392.9 1309.7 386.5 1296.9 384.6 1289.2 389.0 1290.5 398.0 1296.9 410.8 1304.6 420.0M1510.7 314.8 1515.8 312.2 1535.0 323.8M1430.0 359.6 1442.8 360.9 1458.2 349.4 1477.4 341.7M1231.6 279.0 1240.6 275.1 1247.0 281.5 1244.4 290.5 1236.8 291.8 1231.6 285.4 1231.6 279.0M1266.2 275.1 1272.6 272.6 1276.4 277.7 1272.6 284.1 1267.5 281.5 1266.2 275.1M1354.5 277.7 1358.4 273.8 1364.8 276.4 1362.2 281.5 1357.1 281.5 1354.5 277.7M1337.9 276.4 1349.4 272.6 1355.8 270.0M1359.6 286.0 1368.6 289.2 1378.8 285.4 1386.5 289.2M1400.6 297.5 1394.2 285.4 1385.2 277.7 1381.4 270.0M1419.8 323.8 1421.1 334.0 1418.5 344.2M1343.0 381.4 1355.8 376.2 1368.6 372.4 1381.4 371.1 1394.2 373.7 1407.0 377.5 1417.2 382.6 1430.0 386.5"/><path d="M1430.0 352.6 1451.8 346.8 1464.6 334.0 1478.7 327.6" stroke-width="3.2"/><path d="M1317.4 385.2 1316.1 392.9 1318.7 400.6 1323.8 408.2 1327.6 414.6 1330.2 420.0" stroke-width="3.2"/><path d="M1263.6 272.6 1286.7 271.3" stroke-width="3.2"/></g><text class="c" transform="translate(1284.1 353.2) rotate(-52)" font-size="18.5" text-anchor="middle">20</text><text class="c" transform="translate(1337.2 373.7) rotate(-60)" font-size="18.5" text-anchor="middle">5</text><text class="c" transform="translate(1469.7 363.4) rotate(-60)" font-size="18.5" text-anchor="middle">10</text><text class="c" transform="translate(1505.6 354.5) rotate(-70)" font-size="18.5" text-anchor="middle">5</text><text class="c" transform="translate(1240.6 289.2) rotate(-60)" font-size="17.5" text-anchor="middle">20</text><text class="c" transform="translate(1271.3 284.1) rotate(-70)" font-size="17.5" text-anchor="middle">60</text>
<g clip-path="url(#ct12)" fill="none" stroke="#757575" stroke-width="1.7" stroke-linejoin="round"><path d="M1215.0 415.0 1337.9 415.0 1343.0 422.7 1349.4 434.2 1350.7 441.9 1362.2 449.6 1372.4 454.7 1381.4 457.2 1400.6 458.5 1407.0 459.8 1412.1 462.4 1419.8 466.2 1424.9 475.2 1432.6 472.6 1440.3 464.9 1451.8 458.5 1468.4 463.6 1474.8 476.4 1478.7 484.1 1490.2 484.1 1494.0 490.5 1490.2 496.9 1494.0 504.6 1500.4 516.1 1509.4 521.2 1515.8 530.2 1522.2 543.0 1524.8 565.0 1215.0 565.0ZM1524.8 517.4 1535.0 512.3 1535.0 565.0 1528.6 565.0 1527.3 543.0 1520.9 530.2ZM1298.2 486.7 1304.6 482.8 1314.8 477.7 1323.8 479.0 1330.2 486.7 1327.6 496.9 1332.8 504.6 1340.4 512.3 1348.1 517.4 1355.8 520.0 1359.6 525.1 1355.8 532.8 1348.1 535.3 1343.0 543.0 1345.6 550.7 1355.8 545.6 1368.6 543.0 1381.4 540.4 1394.2 537.9 1404.4 540.4 1407.0 548.1 1399.3 555.8 1394.2 565.0 1330.2 565.0 1327.6 543.0 1325.1 530.2 1322.5 518.7 1312.3 517.4 1304.6 512.3 1296.9 516.1 1294.4 512.3 1307.2 503.3 1302.0 496.9 1304.6 491.8 1298.2 491.8ZM1291.8 526.4 1298.2 525.1 1299.5 534.0 1293.1 535.3ZM1399.3 466.2 1407.0 463.6 1412.1 468.8 1412.1 479.0 1404.4 486.7 1399.3 481.6 1396.8 472.6ZM1432.6 472.6 1440.3 464.9 1442.8 473.9 1440.3 486.7 1435.2 494.4 1427.5 490.5 1424.9 476.4ZM1349.4 517.4 1357.1 516.1 1360.9 522.5 1357.1 530.2 1350.7 527.6ZM1266.2 415.0 1276.4 427.8 1286.7 447.0 1296.9 457.2 1307.2 466.2 1309.7 471.3 1325.1 476.4 1330.2 481.6M1294.4 415.0 1304.6 430.4 1312.3 438.0M1330.2 476.4 1337.9 466.2 1349.4 461.1 1362.2 459.8 1375.0 463.6M1394.2 491.8 1387.8 484.1 1378.8 481.6 1368.6 485.4 1373.7 496.9 1385.2 504.6 1394.2 507.2M1334.0 484.1 1343.0 486.7 1355.8 496.9 1368.6 509.7 1381.4 520.0 1389.1 527.6M1414.7 486.7 1426.2 496.9 1437.7 507.2 1445.4 520.0 1458.2 530.2 1471.0 543.0 1483.8 555.8 1487.6 565.0M1309.7 471.3 1294.4 481.6 1290.5 486.7 1291.8 504.6 1296.9 509.7M1291.8 520.0 1284.1 513.6 1271.3 511.0 1262.4 514.8 1257.2 523.8 1259.8 536.6 1263.6 548.1M1391.6 495.6 1396.8 493.1 1403.2 495.6 1398.0 499.5 1391.6 495.6M1354.5 504.6 1359.6 504.6 1359.6 509.7 1355.8 511.0 1354.5 504.6M1463.3 523.8 1469.7 526.4 1465.9 531.5 1463.3 523.8M1455.6 484.1 1463.3 479.0 1471.0 484.1 1465.9 491.8 1458.2 490.5 1455.6 484.1M1481.2 484.1 1488.9 481.6 1492.8 489.2 1486.4 494.4 1481.2 484.1M1355.8 532.8 1375.0 530.2 1394.2 532.8 1407.0 537.9M1490.2 496.9 1496.6 512.3 1504.3 523.8 1515.8 543.0 1519.6 555.8"/><path d="M1340.4 420.1 1350.7 441.9 1372.4 454.7" stroke-width="3.2"/><path d="M1435.2 468.8 1445.4 459.8 1458.2 458.5 1469.7 463.6" stroke-width="3.2"/><path d="M1355.8 550.7 1375.0 543.0 1394.2 537.9" stroke-width="3.2"/></g><text class="c" transform="translate(1326.4 439.3) rotate(-55)" font-size="18.5" text-anchor="middle">20</text><text class="c" transform="translate(1397.4 512.3) rotate(-80)" font-size="18.5" text-anchor="middle">3</text><text class="c" transform="translate(1400.0 532.8) rotate(-10)" font-size="18.5" text-anchor="middle">3</text><text class="c" transform="translate(1432.6 481.6) rotate(70)" font-size="18.5" text-anchor="middle">5</text><text class="c" transform="translate(1340.4 507.2) rotate(60)" font-size="18.5" text-anchor="middle">10</text><text class="c" transform="translate(1486.4 512.3) rotate(60)" font-size="18.5" text-anchor="middle">10</text><text class="c" transform="translate(1514.5 525.1) rotate(80)" font-size="18.5" text-anchor="middle">5</text>
<g clip-path="url(#ct20)" fill="none" stroke="#757575" stroke-width="1.7" stroke-linejoin="round"><path d="M1660.6 150.6 1664.4 145.5 1669.6 148.0 1677.2 142.3 1684.9 144.2 1692.6 153.2 1697.7 157.0 1702.8 152.5 1706.7 158.3 1710.5 163.4 1718.2 162.1 1715.6 157.0 1720.8 163.4 1731.0 162.1 1732.3 150.6 1737.4 148.0 1743.8 148.0 1743.8 275.0 1645.2 275.0 1640.1 263.2 1635.0 253.0 1629.2 242.8 1632.4 240.2 1635.0 237.6 1630.5 233.8 1628.6 226.1 1623.5 223.6 1619.6 227.4 1610.7 233.8 1608.1 231.2 1613.2 226.1 1610.7 220.4 1618.4 221.0 1620.9 213.3 1626.0 209.5 1627.3 203.1 1632.4 199.2 1633.7 192.2 1640.1 196.7 1646.5 203.1 1647.2 209.5 1645.2 214.6 1651.6 219.7 1654.2 214.6 1652.9 206.9 1650.4 199.2 1652.9 194.1 1656.8 186.4 1655.5 181.3 1650.4 180.0 1647.2 178.1 1651.6 176.2 1656.8 169.8 1663.2 167.2 1660.0 160.8ZM1654.2 217.2 1663.2 216.5 1660.6 226.1 1655.5 223.6ZM1687.5 198.0 1692.6 191.6 1700.3 194.1 1705.4 204.4 1706.7 214.6 1704.1 227.4 1699.0 224.8 1695.2 214.6 1690.0 206.9ZM1708.0 178.8 1713.1 174.9 1725.9 173.6 1743.8 176.2 1743.8 191.6 1725.9 196.7 1718.2 191.6 1711.8 189.0ZM1720.8 231.2 1725.9 227.4 1743.8 222.3 1743.8 254.3 1728.4 250.4 1723.3 240.2ZM1667.0 173.6 1670.8 171.3 1674.7 175.6 1672.8 178.8 1668.3 177.5ZM1659.3 208.2 1663.2 205.0 1669.6 206.3 1670.8 210.8 1665.7 213.3 1660.6 212.0ZM1697.7 174.3 1711.8 169.2 1724.6 167.2 1736.1 166.6M1655.5 199.2 1667.0 192.8 1679.8 186.4 1684.9 196.7 1677.2 199.2 1670.8 204.4M1637.6 247.9 1644.0 259.4 1651.6 275.0M1637.6 221.0 1640.1 227.4 1650.4 221.0M1679.8 208.2 1686.2 214.6 1692.6 222.3 1700.3 231.2 1705.4 231.2 1704.1 227.4M1711.8 201.8 1718.2 212.0 1725.9 219.7 1729.7 219.7M1714.4 240.2 1718.2 237.6 1722.0 242.8 1718.2 247.9 1714.4 245.3 1714.4 240.2M1709.2 166.0 1715.6 163.4M1710.5 191.6 1715.6 196.7 1718.2 206.9 1715.6 217.2 1711.8 227.4"/></g>
<g clip-path="url(#ct21)" fill="none" stroke="#757575" stroke-width="1.7" stroke-linejoin="round"><path d="M1475.0 339.1 1480.1 314.8 1489.1 302.6 1507.0 314.8 1513.4 312.2 1526.2 312.9 1546.7 331.4 1556.9 341.7 1564.6 351.9 1572.3 349.4 1574.8 351.9 1569.7 358.3 1577.4 364.7 1583.8 366.0 1597.9 358.3 1603.0 363.4 1609.4 357.0 1615.8 344.2 1632.4 343.6 1637.6 336.6 1640.1 339.1 1636.3 346.8 1637.6 353.2 1642.7 359.6 1644.0 364.7 1650.4 367.3 1647.8 375.0 1641.4 377.5 1638.8 387.8 1647.8 390.3 1654.2 392.9 1656.8 400.6 1663.2 404.4 1669.6 400.6 1674.7 405.7 1686.2 408.2 1699.0 410.8 1705.4 420.0 1603.0 420.0 1596.0 410.8 1587.6 403.1 1583.8 392.9 1577.4 385.2 1564.6 381.4 1551.8 380.1 1539.0 372.4 1526.2 367.3 1513.4 362.2 1500.6 358.3 1487.8 359.6 1475.0 367.3ZM1641.4 270.0 1642.7 277.7 1650.4 286.6 1651.6 296.9 1664.4 303.3 1672.1 299.4 1674.7 307.1 1684.9 313.5 1692.6 321.2 1695.2 336.6 1702.8 334.0 1701.6 323.8 1709.2 314.8 1718.2 323.8 1725.9 331.4 1731.0 339.1 1737.4 343.0 1743.8 343.0 1743.8 270.0ZM1684.9 372.4 1692.6 366.0 1700.3 367.3 1711.8 372.4 1718.2 367.3 1728.4 359.6 1737.4 358.3 1743.8 358.3 1743.8 420.0 1718.2 420.0 1711.8 410.8 1702.8 408.2 1697.7 403.1 1697.7 392.9 1692.6 385.2 1686.2 381.4ZM1650.4 421.0 1656.8 410.8 1667.0 408.2 1674.7 413.4 1674.7 421.0ZM1692.6 421.0 1695.2 413.4 1705.4 410.8 1718.2 408.2 1728.4 413.4 1731.0 421.0ZM1686.2 280.2 1692.6 275.1 1705.4 275.1 1711.8 282.8 1715.6 295.6 1711.8 299.4 1702.8 296.9 1697.7 289.2 1690.0 286.6ZM1577.4 364.7 1583.8 366.0 1591.5 372.4 1587.6 376.2 1580.0 372.4ZM1603.0 330.2 1604.3 308.4 1613.2 300.7 1628.6 294.3 1633.7 298.2 1638.8 308.4 1628.6 327.6 1637.6 330.2 1654.2 354.5 1651.6 375.0M1603.0 330.2 1608.1 341.7 1600.4 351.9 1597.9 358.3M1475.0 353.2 1494.2 349.4M1500.6 353.2 1513.4 351.9 1526.2 357.0 1541.6 364.7 1551.8 372.4 1564.6 376.2M1513.4 312.2 1532.6 330.2 1530.0 336.6 1510.8 318.6M1684.9 372.4 1692.6 366.0 1700.3 367.3 1692.6 378.8 1686.2 385.2 1692.6 392.9 1697.7 403.1M1713.1 369.8 1729.7 351.9 1736.1 341.7M1705.4 314.8 1718.2 327.6 1728.4 341.7 1736.1 349.4M1597.9 369.8 1615.8 372.4 1628.6 376.2 1629.9 381.4 1624.8 392.9M1605.6 308.4 1610.7 305.8 1615.8 309.7 1613.2 316.1 1605.6 318.6M1692.6 280.2 1700.3 277.7 1705.4 282.8 1702.8 287.9 1695.2 286.6 1692.6 280.2M1672.1 299.4 1679.8 308.4 1690.0 318.6 1697.7 312.2 1702.8 314.8M1641.4 377.5 1647.8 385.2 1654.2 398.0 1660.6 408.2 1669.6 410.8 1679.8 413.4M1546.7 359.6 1556.9 357.0 1559.5 362.2 1551.8 367.3 1546.7 364.7 1546.7 359.6M1587.6 385.2 1596.6 382.6 1600.4 390.3 1595.3 398.0 1588.9 395.4 1587.6 385.2"/><path d="M1632.4 390.6 1646.5 390.1" stroke-width="3.2"/><path d="M1574.8 381.4 1582.5 392.9 1586.4 403.1" stroke-width="3.2"/><path d="M1718.2 351.9 1725.9 341.7 1732.3 336.6" stroke-width="3.2"/></g><text class="c" transform="translate(1503.8 353.2) rotate(20)" font-size="18.5" text-anchor="middle">5</text><text class="c" transform="translate(1551.8 363.4) rotate(-60)" font-size="18.5" text-anchor="middle">10</text><text class="c" transform="translate(1610.7 312.2) rotate(170)" font-size="18.5" text-anchor="middle">5</text><text class="c" transform="translate(1609.4 414.6) rotate(40)" font-size="18.5" text-anchor="middle">10</text>
<g clip-path="url(#ct22)" fill="none" stroke="#757575" stroke-width="1.7" stroke-linejoin="round"><path d="M1603.6 413.7 1613.9 427.8 1614.5 440.6 1613.2 453.4 1603.0 463.6 1600.4 473.9 1603.0 481.6 1612.0 485.4 1606.8 494.4 1610.7 496.9 1622.2 496.9 1623.5 507.2 1618.4 512.3 1613.2 514.8 1608.1 520.0 1605.6 527.6 1610.7 532.8 1619.6 530.2 1626.0 532.8 1627.3 540.4 1622.2 544.3 1613.2 541.7 1603.0 540.4 1590.2 539.2 1585.1 535.3 1587.6 527.6 1583.8 521.2 1577.4 509.7 1574.8 504.6 1572.3 494.4 1569.7 486.7 1564.6 486.7 1559.5 494.4 1554.4 495.6 1546.7 490.5 1536.4 494.4 1532.6 504.6 1528.8 509.7 1531.3 517.4 1535.2 527.6 1539.0 536.6 1541.6 548.1 1545.4 565.0 1743.8 565.0 1743.8 415.0ZM1548.0 461.1 1551.8 466.2 1554.4 472.6 1558.2 477.7 1567.2 475.2 1571.0 476.4 1569.7 486.7 1564.6 486.7 1558.2 486.7 1556.9 479.0 1550.5 476.4 1546.7 466.2ZM1475.0 476.4 1482.7 482.8 1490.4 486.7 1491.6 494.4 1487.8 499.5 1492.9 507.2 1498.0 514.8 1500.6 521.2 1508.3 520.0 1513.4 516.1 1521.1 520.0 1526.2 527.6 1523.6 537.9 1522.4 548.1 1521.1 565.0 1475.0 565.0ZM1490.4 527.6 1498.0 525.1 1505.7 528.9 1503.2 535.3 1495.5 537.9 1490.4 534.0ZM1670.8 450.8 1679.8 445.7 1687.5 447.0 1699.0 438.0 1704.1 445.7 1692.6 464.9 1678.5 466.2ZM1650.4 415.0 1674.7 415.0 1672.1 422.7 1664.4 427.8 1656.8 425.2ZM1692.6 415.0 1731.0 415.0 1725.9 422.7 1711.8 430.4 1702.8 426.5ZM1696.4 457.2 1704.1 453.4 1705.4 466.2 1700.3 471.3ZM1677.2 468.8 1660.6 472.6 1649.1 476.4 1644.0 486.7 1638.8 496.9 1631.2 503.3 1623.5 506.5M1718.2 431.6 1705.4 448.3 1702.8 453.4M1528.8 496.9 1536.4 491.8 1546.7 488.0 1559.5 484.1 1569.7 482.8M1590.2 560.5 1603.0 554.5 1615.8 549.4 1626.0 546.8M1527.5 509.7 1532.6 530.2 1537.7 548.1 1541.6 560.5M1661.9 447.0 1669.6 440.6 1684.9 434.2 1700.3 436.8 1705.4 444.4 1702.8 453.4 1692.6 466.2 1677.2 467.5 1669.6 463.6 1661.9 447.0M1683.6 470.0 1686.2 479.0 1691.3 477.7 1690.0 470.0M1608.1 415.0 1618.4 427.8 1617.1 440.6 1615.8 453.4 1606.8 463.6 1604.3 473.9 1610.7 482.8 1614.5 486.7M1610.7 496.9 1613.2 504.6 1609.4 514.8 1608.1 530.2 1615.8 537.9 1626.0 543.0M1574.8 507.2 1585.1 507.2 1590.2 530.2 1583.8 537.9 1577.4 530.2 1574.8 507.2M1482.7 496.9 1487.8 509.7 1495.5 520.0 1503.2 525.1M1510.8 520.0 1517.2 514.8 1523.6 517.4 1526.2 530.2 1518.5 537.9 1513.4 560.5M1544.1 530.2 1551.8 528.9 1553.1 534.0 1545.4 535.3 1544.1 530.2M1654.2 422.7 1664.4 430.4 1674.7 429.1 1679.8 420.1"/><path d="M1475.0 459.8 1477.6 476.4 1480.1 491.8" stroke-width="3.2"/><path d="M1586.4 539.2 1603.0 541.1 1613.2 541.7" stroke-width="3.2"/></g><text class="c" transform="translate(1528.1 504.6) rotate(-60)" font-size="18.5" text-anchor="middle">5</text><text class="c" transform="translate(1608.8 432.9) rotate(-80)" font-size="18.5" text-anchor="middle">5</text><text class="c" transform="translate(1667.0 427.8) rotate(60)" font-size="18.5" text-anchor="middle">10</text><text class="c" transform="translate(1727.8 429.1) rotate(50)" font-size="18.5" text-anchor="middle">2</text><text class="c" transform="translate(1514.7 517.4) rotate(-60)" font-size="17.5" text-anchor="middle">5</text><text class="c" transform="translate(1546.7 543.0) rotate(60)" font-size="17.5" text-anchor="middle">7</text></g></defs>
<g><use href="#base"/><g clip-path="url(#ct00)"><g clip-path="url(#rt00)"><rect x="961.5" y="133.5" width="283.5" height="139.0" fill="#8fd68f"/></g></g>
<g clip-path="url(#ct01)"><g clip-path="url(#rt01)"><rect x="961.5" y="272.5" width="283.5" height="145.0" fill="#3fa860"/><path d="M1102.2 321.2 1127.8 321.2 1131.6 351.9 1136.8 372.4 1159.8 395.4 1162.4 420.0 1102.2 420.0Z" fill="#1f8a45"/><path d="M1102.2 321.2 1125.2 321.2 1124.0 334.0 1102.2 336.6Z" fill="#0f6a35"/><path d="M1149.6 335.3 1159.8 334.0 1166.2 341.7 1162.4 348.1 1152.1 346.8Z" fill="#6cc47c"/><path d="M1198.2 350.6 1208.4 345.5 1221.2 345.5 1227.6 353.2 1228.9 362.2 1211.0 363.4 1200.8 358.3Z" fill="#6cc47c"/><path d="M1154.7 392.9 1172.6 387.8 1191.8 395.4 1211.0 392.9 1223.8 398.0 1211.0 408.2 1191.8 410.8 1159.8 410.8Z" fill="#2f9a50"/><path d="M1230.2 385.2 1262.2 385.2 1262.2 420.0 1217.4 420.0 1223.8 404.4Z" fill="#1f8a45"/><path d="M1188.0 282.8 1198.2 282.8 1198.2 308.4 1182.8 308.4Z" fill="#6cc47c"/><path d="M1138.0 354.5 1149.6 351.9 1159.8 353.2 1167.5 359.6 1172.6 367.3 1173.9 380.1 1172.6 385.2 1166.2 390.3 1154.7 390.3 1147.0 385.2 1139.3 376.2 1136.8 364.7Z" fill="#fff"/><path d="M1161.1 410.8 1186.7 409.5 1186.7 420.0 1161.1 420.0Z" fill="#fff"/><path d="M1191.8 369.2 1196.9 369.2 1197.6 372.4 1192.4 373.0Z" fill="#fff"/></g></g>
<g clip-path="url(#ct02)"><g clip-path="url(#rt02)"><rect x="961.5" y="417.5" width="283.5" height="143.0" fill="#25904a"/><path d="M1070.2 415.0 1172.6 415.0 1198.2 427.8 1191.8 447.0 1172.6 468.8 1140.6 489.2 1070.2 489.2Z" fill="#12743a"/><path d="M1070.2 412.1 1087.0 419.2 1096.7 428.8 1111.0 424.1 1118.2 436.1 1113.5 445.7 1127.8 460.1 1149.4 467.4 1166.3 455.3 1178.4 438.4 1188.0 431.3 1180.7 445.7 1171.1 464.9 1142.3 481.7 1137.4 489.0 1108.6 489.0 1094.3 477.0 1077.4 469.7 1075.1 455.3 1094.3 443.3 1096.7 436.1 1084.7 428.8 1070.2 416.9Z" fill="#0b5e33"/><path d="M1154.7 489.2 1172.6 481.6 1191.8 479.0 1211.0 471.3 1223.8 453.4 1243.0 434.2 1255.8 425.2 1275.0 422.7 1275.0 489.2Z" fill="#35a058"/><path d="M1198.2 489.2 1211.0 476.4 1217.4 468.8 1236.6 453.4 1249.4 438.0 1262.2 427.8 1275.0 426.5 1275.0 489.2Z" fill="#45ad62"/><path d="M1115.0 436.8 1125.2 443.2 1139.3 457.2 1134.2 458.5 1121.4 449.6Z" fill="#45ad62"/><path d="M1063.8 463.6 1076.6 463.6 1076.6 475.2 1063.8 475.2Z" fill="#25904a"/><path d="M1112.4 431.6 1121.4 436.8 1136.8 450.8 1154.7 463.6 1149.6 466.2 1139.3 459.8 1125.2 447.0 1115.0 439.3Z" fill="#fff"/><path d="M1134.2 434.2 1157.2 431.6 1167.5 439.3 1172.6 457.2 1166.2 471.3 1156.0 466.2 1144.4 456.0 1136.8 448.3Z" fill="#fff"/><path d="M1168.8 429.1 1177.7 422.7 1186.7 424.0 1190.5 430.4 1185.4 438.0 1175.2 440.0 1170.0 435.5Z" fill="#fff"/><path d="M1083.0 420.1 1090.7 420.1 1092.0 427.8 1084.3 427.8Z" fill="#fff"/><path d="M1161.1 415.0 1188.0 415.0 1185.4 421.4 1164.9 422.7Z" fill="#fff"/><path d="M1259.6 415.0 1275.0 415.0 1275.0 440.6 1264.8 439.3 1260.9 422.7Z" fill="#fff"/><path d="M1098.4 415.0 1108.6 415.0 1112.4 422.7 1103.5 421.4Z" fill="#fff"/></g></g>
<g clip-path="url(#ct10)"><g clip-path="url(#rt10)"><rect x="1245" y="133.5" width="260" height="139.0" fill="#5cb86a"/><path d="M1215.0 189.0 1276.4 189.0 1276.4 214.6 1215.0 214.6Z" fill="#8fd68f"/><path d="M1291.8 206.9 1312.3 206.9 1312.3 222.3 1291.8 214.6Z" fill="#2f9149"/><path d="M1296.9 217.2 1312.3 219.7 1312.3 235.1 1296.9 235.1Z" fill="#0f6a35"/></g></g>
<g clip-path="url(#ct11)"><g clip-path="url(#rt11)"><rect x="1245" y="272.5" width="260" height="145.0" fill="#25904a"/><path d="M1304.6 317.4 1346.8 317.4 1346.8 326.3 1337.9 336.6 1334.0 351.9 1327.6 359.6 1320.0 368.6 1304.6 368.6Z" fill="#45ad62"/><path d="M1394.2 302.0 1399.3 296.9 1413.4 309.7 1412.1 326.3 1405.7 334.0 1400.6 331.4 1396.8 321.2 1394.2 308.4Z" fill="#5cb870"/><path d="M1373.7 350.0 1381.4 348.1 1394.2 351.9 1399.3 360.9 1381.4 360.9 1376.3 357.0Z" fill="#0f6a35"/><path d="M1418.5 357.0 1427.5 357.0 1427.5 367.3 1418.5 367.3Z" fill="#0f6a35"/><path d="M1481.2 313.5 1536.3 331.4 1536.3 344.2 1490.2 346.8Z" fill="#5cb870"/><path d="M1490.2 323.8 1504.3 330.2 1513.2 336.6 1496.6 343.0 1491.5 334.0Z" fill="#2f9a50"/><path d="M1239.3 383.9 1259.8 383.9 1259.8 421.0 1239.3 421.0Z" fill="#25904a"/></g></g>
<g clip-path="url(#ct12)"><g clip-path="url(#rt12)"><rect x="1245" y="417.5" width="260" height="143.0" fill="#45ad62"/><path d="M1215.0 415.0 1258.5 415.0 1248.3 432.9 1230.4 453.4 1215.0 461.1Z" fill="#35a058"/><path d="M1215.0 415.0 1240.6 415.0 1227.8 427.8 1215.0 434.2Z" fill="#25904a"/></g></g>
<g clip-path="url(#ct21)"><g clip-path="url(#rt21)"><rect x="1505" y="272.5" width="233.5" height="145.0" fill="#45ad62"/><path d="M1490.4 325.0 1503.2 330.2 1517.2 336.6 1513.4 343.0 1494.2 345.5 1489.1 334.0Z" fill="#2f9a50"/><path d="M1600.4 341.7 1654.2 341.7 1654.2 377.5 1600.4 377.5Z" fill="#2f9a50"/><path d="M1613.2 341.7 1641.4 341.7 1641.4 362.2 1628.6 358.3 1609.4 357.0Z" fill="#25904a"/><path d="M1614.5 343.0 1640.1 334.0 1637.6 354.5 1628.6 353.2 1618.4 349.4Z" fill="#12743a"/></g></g><use href="#lines"/><g fill="none" stroke-width="2.8" stroke-linecap="butt" stroke-dasharray="2.8 3.4">
<path d="M1133 497H1070.2L1004.3 412L1089.4 399.3L1161 462.5" stroke="#0000d0"/>
<path d="M1133 497L1163 461L1238.4 409.7L1282.8 494V497H1133" stroke="#e01010"/>
</g></g>
<g stroke="#f00000" stroke-width="1.4" fill="#f00000"><path d="M1055.5 369V393"/><path d="M1046.5 391.6H1063.8L1054.9 409Z" stroke="none"/><path d="M1209.7 517.5V496"/><path d="M1201.4 497H1218L1209.3 479.6Z" stroke="none"/></g>
<text class="z" transform="translate(1009.5 357) scale(0.955 1)" font-size="53">Zone 1</text>
<text class="z" transform="translate(1145.5 554) scale(0.955 1)" font-size="53">Zone 2</text>
<g transform="translate(0 473)"><use href="#base"/><g clip-path="url(#ct00)"><g clip-path="url(#rt00)"><rect x="961.5" y="133.5" width="283.5" height="139.0" fill="#55c0c8"/></g></g>
<g clip-path="url(#ct01)"><g clip-path="url(#rt01)"><rect x="961.5" y="272.5" width="283.5" height="145.0" fill="#67c4be"/><path d="M1102.2 321.2 1127.8 321.2 1131.6 351.9 1121.4 372.4 1115.0 420.0 1102.2 420.0Z" fill="#45b4c3"/><path d="M1102.2 321.2 1115.0 321.2 1113.7 334.0 1102.2 336.6Z" fill="#2a68ad"/><path d="M1152.1 331.4 1189.2 318.6 1230.2 331.4 1232.8 359.6 1217.4 351.9 1191.8 341.7 1166.2 341.7Z" fill="#2498c1"/><path d="M1198.2 350.6 1208.4 346.8 1231.5 346.8 1240.4 359.6 1228.9 367.3 1211.0 363.4 1200.8 358.3Z" fill="#45b4c3"/><path d="M1121.4 392.9 1147.0 385.2 1159.8 398.0 1147.0 420.0 1121.4 420.0Z" fill="#84cfbc"/><path d="M1230.2 385.2 1262.2 385.2 1262.2 420.0 1217.4 420.0 1223.8 404.4Z" fill="#2498c1"/><path d="M1188.0 282.8 1198.2 282.8 1198.2 308.4 1182.8 308.4Z" fill="#45b4c3"/><path d="M1138.0 354.5 1149.6 351.9 1159.8 353.2 1167.5 359.6 1172.6 367.3 1173.9 380.1 1172.6 385.2 1166.2 390.3 1154.7 390.3 1147.0 385.2 1139.3 376.2 1136.8 364.7Z" fill="#fff"/><path d="M1161.1 410.8 1186.7 409.5 1186.7 420.0 1161.1 420.0Z" fill="#fff"/><path d="M1191.8 369.2 1196.9 369.2 1197.6 372.4 1192.4 373.0Z" fill="#fff"/></g></g>
<g clip-path="url(#ct02)"><g clip-path="url(#rt02)"><rect x="961.5" y="417.5" width="283.5" height="143.0" fill="#45b4c3"/><path d="M1106.3 414.2 1195.1 414.2 1190.3 426.3 1166.3 431.1 1149.4 447.9 1137.5 459.9 1118.2 447.9 1106.3 431.1Z" fill="#67c4be"/><path d="M1077.4 452.6 1094.3 443.0 1103.9 433.4 1113.5 452.6 1127.9 467.1 1149.4 472.0 1166.3 459.9 1175.9 447.9 1190.3 438.3 1204.7 428.7 1197.6 447.9 1197.6 491.2 1108.6 491.2 1094.3 479.1 1079.8 472.0Z" fill="#2030a0"/><path d="M1064.2 464.7 1079.8 462.4 1084.7 474.3 1070.2 474.3Z" fill="#0d2262"/><path d="M1096.7 433.4 1108.6 428.7 1120.6 447.9 1137.5 462.4 1151.9 459.9 1161.5 464.7 1149.4 474.3 1127.9 469.5 1111.0 455.1 1099.0 443.0Z" fill="#2a80bc"/><path d="M1106.3 433.4 1118.2 438.3 1142.3 455.1 1149.4 462.4 1135.1 464.7 1118.2 452.6Z" fill="#67c4be"/><path d="M1197.6 491.2 1197.6 447.9 1204.7 428.7 1223.9 416.7 1243.1 411.8 1238.4 431.1 1231.1 450.3 1226.4 491.2Z" fill="#2a58ac"/><path d="M1226.4 491.2 1231.1 450.3 1238.4 431.1 1243.1 411.8 1252.7 419.1 1262.3 438.3 1274.4 459.9 1281.7 491.2Z" fill="#2498c1"/><path d="M1195.1 414.2 1262.3 414.2 1252.7 419.1 1243.1 411.8 1223.9 416.7 1204.7 428.7 1190.3 426.3Z" fill="#2498c1"/><path d="M1067.8 411.8 1094.3 428.7 1084.7 433.4 1070.2 419.1Z" fill="#2a58ac"/><path d="M1112.4 431.6 1121.4 436.8 1136.8 450.8 1154.7 463.6 1149.6 466.2 1139.3 459.8 1125.2 447.0 1115.0 439.3Z" fill="#fff"/><path d="M1134.2 434.2 1157.2 431.6 1167.5 439.3 1172.6 457.2 1166.2 471.3 1156.0 466.2 1144.4 456.0 1136.8 448.3Z" fill="#fff"/><path d="M1168.8 429.1 1177.7 422.7 1186.7 424.0 1190.5 430.4 1185.4 438.0 1175.2 440.0 1170.0 435.5Z" fill="#fff"/><path d="M1083.0 420.1 1090.7 420.1 1092.0 427.8 1084.3 427.8Z" fill="#fff"/><path d="M1161.1 415.0 1188.0 415.0 1185.4 421.4 1164.9 422.7Z" fill="#fff"/><path d="M1259.6 415.0 1275.0 415.0 1275.0 440.6 1264.8 439.3 1260.9 422.7Z" fill="#fff"/><path d="M1098.4 415.0 1108.6 415.0 1112.4 422.7 1103.5 421.4Z" fill="#fff"/></g></g>
<g clip-path="url(#ct10)"><g clip-path="url(#rt10)"><rect x="1245" y="133.5" width="260" height="139.0" fill="#2aa0c8"/><path d="M1215.0 189.0 1276.4 189.0 1276.4 214.6 1215.0 214.6Z" fill="#55c0c8"/><path d="M1296.9 217.2 1312.3 219.7 1312.3 235.1 1296.9 235.1Z" fill="#2a68ad"/></g></g>
<g clip-path="url(#ct11)"><g clip-path="url(#rt11)"><rect x="1245" y="272.5" width="260" height="145.0" fill="#2a5cb0"/><path d="M1304.6 317.4 1325.1 317.4 1327.6 326.3 1325.1 341.7 1327.6 359.6 1320.0 368.6 1304.6 368.6Z" fill="#2a9ac8"/><path d="M1330.2 346.8 1343.0 341.7 1355.8 351.9 1375.0 351.9 1394.2 354.5 1399.3 362.2 1330.2 367.3Z" fill="#263f9e"/><path d="M1387.8 291.8 1399.3 296.9 1413.4 309.7 1412.1 326.3 1405.7 334.0 1400.6 346.8 1414.7 344.2 1416.0 360.9 1407.0 360.9 1394.2 334.0 1381.4 323.8 1389.1 312.2 1378.8 307.1Z" fill="#2a9ac8"/><path d="M1401.9 312.2 1410.8 312.2 1410.8 326.3 1407.0 332.7 1403.2 323.8Z" fill="#45b4c3"/><path d="M1418.5 357.0 1427.5 357.0 1427.5 367.3 1418.5 367.3Z" fill="#2a5cb0"/><path d="M1481.2 313.5 1536.3 331.4 1536.3 344.2 1490.2 346.8Z" fill="#67c4be"/><path d="M1239.3 383.9 1259.8 383.9 1259.8 421.0 1239.3 421.0Z" fill="#2a9ac8"/></g></g>
<g clip-path="url(#ct12)"><g clip-path="url(#rt12)"><rect x="1245" y="417.5" width="260" height="143.0" fill="#45b4c3"/><path d="M1215.0 415.0 1245.7 415.0 1257.2 432.9 1266.2 453.4 1284.1 489.2 1215.0 489.2Z" fill="#2498c1"/><path d="M1215.0 415.0 1230.4 415.0 1222.7 434.2 1215.0 447.0Z" fill="#2a80bc"/></g></g>
<g clip-path="url(#ct21)"><g clip-path="url(#rt21)"><rect x="1505" y="272.5" width="233.5" height="145.0" fill="#67c4be"/><path d="M1480.1 313.5 1500.6 313.5 1500.6 346.8 1480.1 346.8Z" fill="#8fd3ba"/><path d="M1622.2 341.7 1654.2 334.0 1654.2 377.5 1641.4 377.5 1632.4 359.6Z" fill="#45b4c3"/><path d="M1628.6 341.7 1654.2 334.0 1654.2 377.5 1645.2 377.5 1636.3 359.6Z" fill="#2498c1"/><path d="M1640.1 364.7 1654.2 364.7 1654.2 377.5 1640.1 377.5Z" fill="#2a68ad"/></g></g><use href="#lines"/><g fill="none" stroke-width="2.8" stroke-linecap="butt" stroke-dasharray="2.8 3.4">
<path d="M1133 497H1070.2L1004.3 412L1089.4 399.3L1161 462.5" stroke="#0000d0"/>
<path d="M1133 497L1163 461L1238.4 409.7L1282.8 494V497H1133" stroke="#e01010"/>
</g></g>
<g stroke="#000" stroke-width="2.5" fill="none">
<path d="M952.5 133.0H1746.5M952.5 560.3H1746.5M961.5 133.0V560.3M1738.5 133.0V560.3"/>
<path d="M952.5 239.8H961.5M1738.5 239.8h8"/>
<path d="M952.5 346.6H961.5M1738.5 346.6h8"/>
<path d="M952.5 453.5H961.5M1738.5 453.5h8"/>
<path d="M1069.0 133.0v-9M1069.0 560.3v9"/>
<path d="M1283.2 133.0v-9M1283.2 560.3v9"/>
<path d="M1497.4 133.0v-9M1497.4 560.3v9"/>
<path d="M1711.6 133.0v-9M1711.6 560.3v9"/>
</g>
<text class="t" transform="translate(941.5 146.6) scale(0.955 1)" font-size="40.5" text-anchor="end">22.4</text>
<text class="t" transform="translate(938.3 253.4) scale(0.955 1)" font-size="40.5" text-anchor="end">22.35</text>
<text class="t" transform="translate(941.5 360.2) scale(0.955 1)" font-size="40.5" text-anchor="end">22.3</text>
<text class="t" transform="translate(938.3 467.1) scale(0.955 1)" font-size="40.5" text-anchor="end">22.25</text>
<text class="t" transform="translate(941.5 573.9) scale(0.955 1)" font-size="40.5" text-anchor="end">22.2</text>
<text class="b" transform="translate(977.5 173.6) scale(0.86 1)" font-size="49">B</text>
<text class="t" transform="translate(1381.4 182.6)" font-size="55.5" text-anchor="middle">(SOD)</text>
<g stroke="#000" stroke-width="2.5" fill="none">
<path d="M952.5 606.0H1746.5M952.5 1033.3H1746.5M961.5 606.0V1033.3M1738.5 606.0V1033.3"/>
<path d="M952.5 712.8H961.5M1738.5 712.8h8"/>
<path d="M952.5 819.6H961.5M1738.5 819.6h8"/>
<path d="M952.5 926.5H961.5M1738.5 926.5h8"/>
<path d="M1069.0 606.0v-9M1069.0 1033.3v9"/>
<path d="M1283.2 606.0v-9M1283.2 1033.3v9"/>
<path d="M1497.4 606.0v-9M1497.4 1033.3v9"/>
<path d="M1711.6 606.0v-9M1711.6 1033.3v9"/>
</g>
<text class="t" transform="translate(941.5 619.6) scale(0.955 1)" font-size="40.5" text-anchor="end">22.4</text>
<text class="t" transform="translate(938.3 726.4) scale(0.955 1)" font-size="40.5" text-anchor="end">22.35</text>
<text class="t" transform="translate(941.5 833.2) scale(0.955 1)" font-size="40.5" text-anchor="end">22.3</text>
<text class="t" transform="translate(938.3 940.1) scale(0.955 1)" font-size="40.5" text-anchor="end">22.25</text>
<text class="t" transform="translate(941.5 1046.9) scale(0.955 1)" font-size="40.5" text-anchor="end">22.2</text>
<text class="b" transform="translate(977.5 646.6) scale(0.86 1)" font-size="49">C</text>
<text class="t" transform="translate(1381.4 655.6)" font-size="55.5" text-anchor="middle">(AOU)</text>
<text class="t" transform="translate(1069.0 1090.2) scale(0.955 1)" font-size="42" text-anchor="middle">114</text>
<text class="t" transform="translate(1283.2 1090.2) scale(0.955 1)" font-size="42" text-anchor="middle">114.1</text>
<text class="t" transform="translate(1497.4 1090.2) scale(0.955 1)" font-size="42" text-anchor="middle">114.2</text>
<text class="t" transform="translate(1711.6 1090.2) scale(0.955 1)" font-size="42" text-anchor="middle">114.3</text>
<rect x="1775.6" y="130.70" width="23.8" height="43.6" fill="#fefee1"/>
<rect x="1775.6" y="173.84" width="23.8" height="43.6" fill="#f6fab7"/>
<rect x="1775.6" y="216.98" width="23.8" height="43.6" fill="#dcefa3"/>
<rect x="1775.6" y="260.12" width="23.8" height="43.6" fill="#addd8b"/>
<rect x="1775.6" y="303.26" width="23.8" height="43.6" fill="#8bd082"/>
<rect x="1775.6" y="346.40" width="23.8" height="43.6" fill="#70c57b"/>
<rect x="1775.6" y="389.54" width="23.8" height="43.6" fill="#48ad63"/>
<rect x="1775.6" y="432.68" width="23.8" height="43.6" fill="#2b9149"/>
<rect x="1775.6" y="475.82" width="23.8" height="43.6" fill="#0b7139"/>
<rect x="1775.6" y="518.96" width="23.8" height="43.14" fill="#04462c"/>
<rect x="1775.6" y="130.7" width="23.8" height="431.4" fill="none" stroke="#8c8c82" stroke-width="1.1"/>
<rect x="1775.0" y="991.00" width="23.2" height="43" fill="#fdfed6"/>
<rect x="1775.0" y="948.00" width="23.2" height="43.5" fill="#eef8b4"/>
<rect x="1775.0" y="905.00" width="23.2" height="43.5" fill="#d0ecb3"/>
<rect x="1775.0" y="862.00" width="23.2" height="43.5" fill="#86d1ba"/>
<rect x="1775.0" y="819.00" width="23.2" height="43.5" fill="#5ec3c3"/>
<rect x="1775.0" y="776.00" width="23.2" height="43.5" fill="#3fb4c8"/>
<rect x="1775.0" y="733.00" width="23.2" height="43.5" fill="#2296c4"/>
<rect x="1775.0" y="690.00" width="23.2" height="43.5" fill="#2a65ae"/>
<rect x="1775.0" y="647.00" width="23.2" height="43.5" fill="#2a3a9c"/>
<rect x="1775.0" y="604.00" width="23.2" height="43.5" fill="#0c2060"/>
<rect x="1775.0" y="604" width="23.2" height="430" fill="none" stroke="#8c8c82" stroke-width="1.1"/>
<text class="t" transform="translate(1810.2 144.6) scale(0.955 1)" font-size="39">0</text>
<text class="t" transform="translate(1810.2 288.4) scale(0.955 1)" font-size="39">-100</text>
<text class="t" transform="translate(1810.2 432.2) scale(0.955 1)" font-size="39">-200</text>
<text class="t" transform="translate(1810.2 576.0) scale(0.955 1)" font-size="39">-300</text>
<text class="t" transform="translate(1812.0 631.1) scale(0.955 1)" font-size="39">200</text>
<text class="t" transform="translate(1812.0 738.6) scale(0.955 1)" font-size="39">150</text>
<text class="t" transform="translate(1812.0 846.1) scale(0.955 1)" font-size="39">100</text>
<text class="t" transform="translate(1812.0 953.6) scale(0.955 1)" font-size="39">50</text>
<g stroke="#3a7a4a" stroke-width="1.2"><path d="M1795.5 274.5h4M1795.5 418.3h4"/></g>
<g stroke="#1f6a7a" stroke-width="1.2"><path d="M1794.5 724.3h4M1794.5 831.8h4M1794.5 939.3h4"/></g>
<g fill="#c8c8c8"><rect x="1047" y="589" width="3" height="1.2"/><rect x="1058" y="589" width="3" height="1.2"/><rect x="1069" y="589" width="2.5" height="1.2"/><rect x="1093" y="589" width="3" height="1.2"/><rect x="1246" y="589" width="3" height="1.2"/><rect x="1268" y="589" width="3" height="1.2"/><rect x="1290" y="589" width="3" height="1.2"/><rect x="1313" y="589" width="3" height="1.2"/><rect x="1460" y="589" width="3" height="1.2"/><rect x="1482" y="589" width="3" height="1.2"/><rect x="1504" y="589" width="3" height="1.2"/><rect x="1528" y="589" width="8" height="1.2"/><rect x="1676" y="589" width="3" height="1.2"/><rect x="1698" y="589" width="3" height="1.2"/><rect x="1720" y="589" width="3" height="1.2"/><rect x="1742" y="589" width="8" height="1.2"/></g>
<path d="M2483.4 336.6 2481.8 349.6 2480.5 367.8 2479.2 393.8 2474 400 2472.7 415.6 2471.4 433.8 2463.6 449.4 2458.4 459.8 2450.6 471.5 2444.1 476.7 2441.5 498.8 2437.6 517 2434.5 533.9 2422 535.2 2411.6 540.4 2401.2 541.7 2394.7 549.5 2390.8 558.6 2385.6 559.1 2381.7 568.5 2370 570.3 2362.2 575.5 2357 582 2353.1 588.5 2347.9 591.1 2341.4 597.1 2336.2 605.4 2331 617.1 2321.9 621 2315.4 630.1 2314.1 644.4 2310.2 653.5 2302.4 661.3 2297.7 670.4 2296.7 683.4 2299.8 693.8 2305 700 2308.9 715.6 2311.5 739 2312.8 765 2312.8 790.5" fill="none" stroke="#f00000" stroke-width="7" stroke-linejoin="round"/>
<path d="M2173.2 723.9 2173.2 741.6 2172.4 749.4 2168.5 757.2 2165.9 768.1 2156.8 774.1 2151.6 778 2143.8 785.8 2136 793.1 2129.5 794.1 2123 800.1 2115.2 802.7 2110 809.2 2104.8 815.7 2099.1 826.1 2098.3 840.4 2094.4 848.7 2086.6 854.7 2078.8 865.1 2073.6 872.9 2065.8 878.9 2058 883.3 2055.4 893.7 2051 904.1 2048.9 926.2 2048.1 960 2047.6 1011.5" fill="none" stroke="#0000ff" stroke-width="7" stroke-linejoin="round"/>
<g stroke="#484848" stroke-width="1.8" fill="none">
<rect x="1998.5" y="135.8" width="485.0" height="888.5"/>
<path d="M1998.5 913.2h9M2483.5 913.2h-9"/>
<path d="M1998.5 802.2h9M2483.5 802.2h-9"/>
<path d="M1998.5 691.1h9M2483.5 691.1h-9"/>
<path d="M1998.5 580.0h9M2483.5 580.0h-9"/>
<path d="M1998.5 469.0h9M2483.5 469.0h-9"/>
<path d="M1998.5 357.9h9M2483.5 357.9h-9"/>
<path d="M1998.5 246.9h9M2483.5 246.9h-9"/>
<path d="M2152.1 135.8v9M2152.1 1024.3v-9"/>
<path d="M2305.3 135.8v9M2305.3 1024.3v-9"/>
<path d="M2458.5 135.8v9M2458.5 1024.3v-9"/>
</g>
<text class="t" transform="translate(1980.0 1041.3) scale(0.955 1)" font-size="48" text-anchor="end">-9</text>
<text class="t" transform="translate(1980.0 930.2) scale(0.955 1)" font-size="48" text-anchor="end">-8</text>
<text class="t" transform="translate(1980.0 819.2) scale(0.955 1)" font-size="48" text-anchor="end">-7</text>
<text class="t" transform="translate(1980.0 708.1) scale(0.955 1)" font-size="48" text-anchor="end">-6</text>
<text class="t" transform="translate(1980.0 597.0) scale(0.955 1)" font-size="48" text-anchor="end">-5</text>
<text class="t" transform="translate(1980.0 486.0) scale(0.955 1)" font-size="48" text-anchor="end">-4</text>
<text class="t" transform="translate(1980.0 374.9) scale(0.955 1)" font-size="48" text-anchor="end">-3</text>
<text class="t" transform="translate(1980.0 263.9) scale(0.955 1)" font-size="48" text-anchor="end">-2</text>
<text class="t" transform="translate(1980.0 152.8) scale(0.955 1)" font-size="48" text-anchor="end">-1</text>
<text class="t" transform="translate(1996.9 1084.0) scale(0.955 1)" font-size="48" text-anchor="middle">-2</text>
<text class="t" transform="translate(2150.1 1084.0) scale(0.955 1)" font-size="48" text-anchor="middle">-1.5</text>
<text class="t" transform="translate(2303.3 1084.0) scale(0.955 1)" font-size="48" text-anchor="middle">-1</text>
<text class="t" transform="translate(2421.0 1084.0) scale(0.955 1)" font-size="48">-0.5</text>
<text class="b" transform="translate(2023.0 196.0)" font-size="49">D</text>
<text class="t" transform="translate(1921.5 580.0) rotate(-90) scale(0.955 1)" font-size="55" text-anchor="middle">Bathymetry (m)</text>
<text class="t" transform="translate(2240.0 1165.0) scale(0.99 1)" font-size="55" text-anchor="middle">Rate (mmol m<tspan dy="-22" font-size="41">-3</tspan><tspan dy="22"> d</tspan><tspan dy="-22" font-size="41">-1</tspan><tspan dy="22">)</tspan></text>
<path d="M2237 921H2325" stroke="#f00000" stroke-width="6.5"/>
<path d="M2237 971H2325" stroke="#0000ff" stroke-width="6.5"/>
<text class="t" transform="translate(2332.3 936.0) scale(0.955 1)" font-size="44.5">Zone 1</text>
<text class="t" transform="translate(2332.3 986.3) scale(0.955 1)" font-size="44.5">Zone 2</text>
</svg>
</body></html>
